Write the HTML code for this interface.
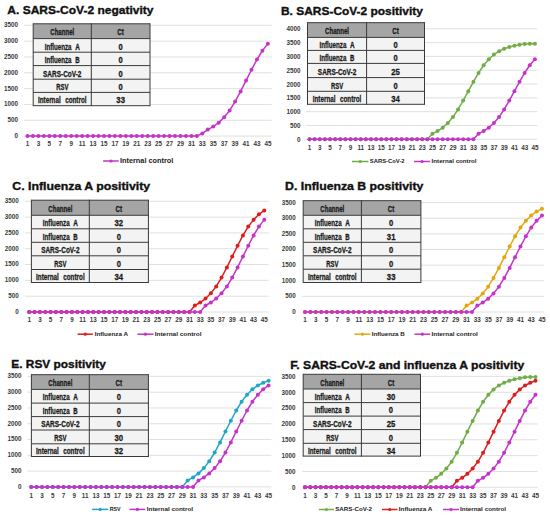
<!DOCTYPE html>
<html><head><meta charset="utf-8"><style>
html,body{margin:0;padding:0;background:#fff;}
svg{display:block;}
text{font-family:"Liberation Sans", sans-serif;white-space:pre;}
.tt{font-size:10.8px;font-weight:bold;fill:#111;stroke:#111;stroke-width:0.35px;}
.ax{font-size:6.3px;font-weight:bold;fill:#3a3a3a;}
.tb{font-size:9.6px;font-weight:bold;fill:#1a1a1a;stroke:#1a1a1a;stroke-width:0.3px;}
.lg{fill:#222;font-weight:bold;}
</style></head><body>
<svg width="550" height="517" viewBox="0 0 550 517">
<rect width="550" height="517" fill="#fff"/>
<line x1="24" y1="136.1" x2="271.6" y2="136.1" stroke="#DDDDDD" stroke-width="0.9"/>
<text x="18" y="138" text-anchor="end" class="ax">0</text>
<line x1="24" y1="120.27" x2="271.6" y2="120.27" stroke="#DDDDDD" stroke-width="0.9"/>
<text x="18" y="122.17" text-anchor="end" class="ax">500</text>
<line x1="24" y1="104.44" x2="271.6" y2="104.44" stroke="#DDDDDD" stroke-width="0.9"/>
<text x="18" y="106.34" text-anchor="end" class="ax">1000</text>
<line x1="24" y1="88.61" x2="271.6" y2="88.61" stroke="#DDDDDD" stroke-width="0.9"/>
<text x="18" y="90.51" text-anchor="end" class="ax">1500</text>
<line x1="24" y1="72.79" x2="271.6" y2="72.79" stroke="#DDDDDD" stroke-width="0.9"/>
<text x="18" y="74.69" text-anchor="end" class="ax">2000</text>
<line x1="24" y1="56.96" x2="271.6" y2="56.96" stroke="#DDDDDD" stroke-width="0.9"/>
<text x="18" y="58.86" text-anchor="end" class="ax">2500</text>
<line x1="24" y1="41.13" x2="271.6" y2="41.13" stroke="#DDDDDD" stroke-width="0.9"/>
<text x="18" y="43.03" text-anchor="end" class="ax">3000</text>
<line x1="24" y1="25.3" x2="271.6" y2="25.3" stroke="#DDDDDD" stroke-width="0.9"/>
<text x="18" y="27.2" text-anchor="end" class="ax">3500</text>
<text x="27.5" y="146" text-anchor="middle" class="ax">1</text>
<text x="38.43" y="146" text-anchor="middle" class="ax">3</text>
<text x="49.35" y="146" text-anchor="middle" class="ax">5</text>
<text x="60.28" y="146" text-anchor="middle" class="ax">7</text>
<text x="71.21" y="146" text-anchor="middle" class="ax">9</text>
<text x="82.14" y="146" text-anchor="middle" class="ax">11</text>
<text x="93.06" y="146" text-anchor="middle" class="ax">13</text>
<text x="103.99" y="146" text-anchor="middle" class="ax">15</text>
<text x="114.92" y="146" text-anchor="middle" class="ax">17</text>
<text x="125.85" y="146" text-anchor="middle" class="ax">19</text>
<text x="136.77" y="146" text-anchor="middle" class="ax">21</text>
<text x="147.7" y="146" text-anchor="middle" class="ax">23</text>
<text x="158.63" y="146" text-anchor="middle" class="ax">25</text>
<text x="169.55" y="146" text-anchor="middle" class="ax">27</text>
<text x="180.48" y="146" text-anchor="middle" class="ax">29</text>
<text x="191.41" y="146" text-anchor="middle" class="ax">31</text>
<text x="202.34" y="146" text-anchor="middle" class="ax">33</text>
<text x="213.26" y="146" text-anchor="middle" class="ax">35</text>
<text x="224.19" y="146" text-anchor="middle" class="ax">37</text>
<text x="235.12" y="146" text-anchor="middle" class="ax">39</text>
<text x="246.05" y="146" text-anchor="middle" class="ax">41</text>
<text x="256.97" y="146" text-anchor="middle" class="ax">43</text>
<text x="267.9" y="146" text-anchor="middle" class="ax">45</text>
<rect x="33.2" y="23.8" width="116.8" height="14.8" fill="#A5A5A5"/>
<rect x="33.2" y="38.6" width="116.8" height="67.1" fill="#F3F3F3"/>
<line x1="33.2" y1="23.8" x2="150" y2="23.8" stroke="#3A3A3A" stroke-width="1"/>
<line x1="33.2" y1="38.6" x2="150" y2="38.6" stroke="#3A3A3A" stroke-width="1"/>
<line x1="33.2" y1="52.2" x2="150" y2="52.2" stroke="#3A3A3A" stroke-width="1"/>
<line x1="33.2" y1="65.6" x2="150" y2="65.6" stroke="#3A3A3A" stroke-width="1"/>
<line x1="33.2" y1="79.2" x2="150" y2="79.2" stroke="#3A3A3A" stroke-width="1"/>
<line x1="33.2" y1="92.4" x2="150" y2="92.4" stroke="#3A3A3A" stroke-width="1"/>
<line x1="33.2" y1="105.7" x2="150" y2="105.7" stroke="#3A3A3A" stroke-width="1"/>
<line x1="33.2" y1="23.3" x2="33.2" y2="106.2" stroke="#3A3A3A" stroke-width="1"/>
<line x1="91.3" y1="23.3" x2="91.3" y2="106.2" stroke="#3A3A3A" stroke-width="1"/>
<line x1="150" y1="23.3" x2="150" y2="106.2" stroke="#3A3A3A" stroke-width="1"/>
<text x="62.25" y="35.3" text-anchor="middle" textLength="24" lengthAdjust="spacingAndGlyphs" class="tb">Channel</text>
<text x="120.65" y="35.3" text-anchor="middle" textLength="6.6" lengthAdjust="spacingAndGlyphs" class="tb">Ct</text>
<text x="44.75" y="49.5" textLength="26.8" lengthAdjust="spacingAndGlyphs" class="tb">Influenza</text>
<text x="75.15" y="49.5" textLength="4.6" lengthAdjust="spacingAndGlyphs" class="tb">A</text>
<text x="120.65" y="49.5" text-anchor="middle" textLength="4.2" lengthAdjust="spacingAndGlyphs" class="tb dg">0</text>
<text x="44.75" y="63" textLength="26.8" lengthAdjust="spacingAndGlyphs" class="tb">Influenza</text>
<text x="75.15" y="63" textLength="4.4" lengthAdjust="spacingAndGlyphs" class="tb">B</text>
<text x="120.65" y="63" text-anchor="middle" textLength="4.2" lengthAdjust="spacingAndGlyphs" class="tb dg">0</text>
<text x="62.25" y="76.5" text-anchor="middle" textLength="38.4" lengthAdjust="spacingAndGlyphs" class="tb">SARS-CoV-2</text>
<text x="120.65" y="76.5" text-anchor="middle" textLength="4.2" lengthAdjust="spacingAndGlyphs" class="tb dg">0</text>
<text x="62.25" y="89.9" text-anchor="middle" textLength="12.2" lengthAdjust="spacingAndGlyphs" class="tb">RSV</text>
<text x="120.65" y="89.9" text-anchor="middle" textLength="4.2" lengthAdjust="spacingAndGlyphs" class="tb dg">0</text>
<text x="37.95" y="103.15" textLength="22.8" lengthAdjust="spacingAndGlyphs" class="tb">Internal</text>
<text x="65.15" y="103.15" textLength="21.4" lengthAdjust="spacingAndGlyphs" class="tb">control</text>
<text x="120.65" y="103.15" text-anchor="middle" textLength="8.6" lengthAdjust="spacingAndGlyphs" class="tb dg">33</text>
<polyline points="27.5,136.1 32.96,136.1 38.43,136.1 43.89,136.1 49.35,136.1 54.82,136.1 60.28,136.1 65.75,136.1 71.21,136.1 76.67,136.1 82.14,136.1 87.6,136.1 93.06,136.1 98.53,136.1 103.99,136.1 109.45,136.1 114.92,136.1 120.38,136.1 125.85,136.1 131.31,136.1 136.77,136.1 142.24,136.1 147.7,136.1 153.16,136.1 158.63,136.1 164.09,136.1 169.55,136.1 175.02,136.1 180.48,136.1 185.95,136.1 191.41,136.1 196.87,136.1 202.34,133.41 207.8,129.61 213.26,126.6 218.73,122.65 224.19,117.26 229.65,110.46 235.12,101.59 240.58,91.46 246.05,80.54 251.51,69.78 256.97,59.49 262.44,50.63 267.9,43.66" fill="none" stroke="#C434C8" stroke-width="1.5" stroke-linejoin="round"/>
<circle cx="27.5" cy="136.1" r="2.0" fill="#C434C8"/>
<circle cx="32.96" cy="136.1" r="2.0" fill="#C434C8"/>
<circle cx="38.43" cy="136.1" r="2.0" fill="#C434C8"/>
<circle cx="43.89" cy="136.1" r="2.0" fill="#C434C8"/>
<circle cx="49.35" cy="136.1" r="2.0" fill="#C434C8"/>
<circle cx="54.82" cy="136.1" r="2.0" fill="#C434C8"/>
<circle cx="60.28" cy="136.1" r="2.0" fill="#C434C8"/>
<circle cx="65.75" cy="136.1" r="2.0" fill="#C434C8"/>
<circle cx="71.21" cy="136.1" r="2.0" fill="#C434C8"/>
<circle cx="76.67" cy="136.1" r="2.0" fill="#C434C8"/>
<circle cx="82.14" cy="136.1" r="2.0" fill="#C434C8"/>
<circle cx="87.6" cy="136.1" r="2.0" fill="#C434C8"/>
<circle cx="93.06" cy="136.1" r="2.0" fill="#C434C8"/>
<circle cx="98.53" cy="136.1" r="2.0" fill="#C434C8"/>
<circle cx="103.99" cy="136.1" r="2.0" fill="#C434C8"/>
<circle cx="109.45" cy="136.1" r="2.0" fill="#C434C8"/>
<circle cx="114.92" cy="136.1" r="2.0" fill="#C434C8"/>
<circle cx="120.38" cy="136.1" r="2.0" fill="#C434C8"/>
<circle cx="125.85" cy="136.1" r="2.0" fill="#C434C8"/>
<circle cx="131.31" cy="136.1" r="2.0" fill="#C434C8"/>
<circle cx="136.77" cy="136.1" r="2.0" fill="#C434C8"/>
<circle cx="142.24" cy="136.1" r="2.0" fill="#C434C8"/>
<circle cx="147.7" cy="136.1" r="2.0" fill="#C434C8"/>
<circle cx="153.16" cy="136.1" r="2.0" fill="#C434C8"/>
<circle cx="158.63" cy="136.1" r="2.0" fill="#C434C8"/>
<circle cx="164.09" cy="136.1" r="2.0" fill="#C434C8"/>
<circle cx="169.55" cy="136.1" r="2.0" fill="#C434C8"/>
<circle cx="175.02" cy="136.1" r="2.0" fill="#C434C8"/>
<circle cx="180.48" cy="136.1" r="2.0" fill="#C434C8"/>
<circle cx="185.95" cy="136.1" r="2.0" fill="#C434C8"/>
<circle cx="191.41" cy="136.1" r="2.0" fill="#C434C8"/>
<circle cx="196.87" cy="136.1" r="2.0" fill="#C434C8"/>
<circle cx="202.34" cy="133.41" r="2.0" fill="#C434C8"/>
<circle cx="207.8" cy="129.61" r="2.0" fill="#C434C8"/>
<circle cx="213.26" cy="126.6" r="2.0" fill="#C434C8"/>
<circle cx="218.73" cy="122.65" r="2.0" fill="#C434C8"/>
<circle cx="224.19" cy="117.26" r="2.0" fill="#C434C8"/>
<circle cx="229.65" cy="110.46" r="2.0" fill="#C434C8"/>
<circle cx="235.12" cy="101.59" r="2.0" fill="#C434C8"/>
<circle cx="240.58" cy="91.46" r="2.0" fill="#C434C8"/>
<circle cx="246.05" cy="80.54" r="2.0" fill="#C434C8"/>
<circle cx="251.51" cy="69.78" r="2.0" fill="#C434C8"/>
<circle cx="256.97" cy="59.49" r="2.0" fill="#C434C8"/>
<circle cx="262.44" cy="50.63" r="2.0" fill="#C434C8"/>
<circle cx="267.9" cy="43.66" r="2.0" fill="#C434C8"/>
<line x1="103.1" y1="161" x2="118.7" y2="161" stroke="#C434C8" stroke-width="1.5"/>
<circle cx="110.9" cy="161" r="1.6" fill="#C434C8"/>
<text x="120" y="163.18" font-size="7.6" textLength="53.3" lengthAdjust="spacingAndGlyphs" class="lg">Internal control</text>
<text x="7.3" y="13.5" textLength="146.2" lengthAdjust="spacingAndGlyphs" class="tt">A. SARS-CoV-2 negativity</text>
<line x1="306" y1="139.3" x2="537.4" y2="139.3" stroke="#DDDDDD" stroke-width="0.9"/>
<text x="300.5" y="141.8" text-anchor="end" class="ax">0</text>
<line x1="306" y1="125.49" x2="537.4" y2="125.49" stroke="#DDDDDD" stroke-width="0.9"/>
<text x="300.5" y="127.99" text-anchor="end" class="ax">500</text>
<line x1="306" y1="111.68" x2="537.4" y2="111.68" stroke="#DDDDDD" stroke-width="0.9"/>
<text x="300.5" y="114.18" text-anchor="end" class="ax">1000</text>
<line x1="306" y1="97.86" x2="537.4" y2="97.86" stroke="#DDDDDD" stroke-width="0.9"/>
<text x="300.5" y="100.36" text-anchor="end" class="ax">1500</text>
<line x1="306" y1="84.05" x2="537.4" y2="84.05" stroke="#DDDDDD" stroke-width="0.9"/>
<text x="300.5" y="86.55" text-anchor="end" class="ax">2000</text>
<line x1="306" y1="70.24" x2="537.4" y2="70.24" stroke="#DDDDDD" stroke-width="0.9"/>
<text x="300.5" y="72.74" text-anchor="end" class="ax">2500</text>
<line x1="306" y1="56.42" x2="537.4" y2="56.42" stroke="#DDDDDD" stroke-width="0.9"/>
<text x="300.5" y="58.92" text-anchor="end" class="ax">3000</text>
<line x1="306" y1="42.61" x2="537.4" y2="42.61" stroke="#DDDDDD" stroke-width="0.9"/>
<text x="300.5" y="45.11" text-anchor="end" class="ax">3500</text>
<line x1="306" y1="28.8" x2="537.4" y2="28.8" stroke="#DDDDDD" stroke-width="0.9"/>
<text x="300.5" y="31.3" text-anchor="end" class="ax">4000</text>
<text x="309.5" y="150" text-anchor="middle" class="ax">1</text>
<text x="319.75" y="150" text-anchor="middle" class="ax">3</text>
<text x="329.99" y="150" text-anchor="middle" class="ax">5</text>
<text x="340.24" y="150" text-anchor="middle" class="ax">7</text>
<text x="350.48" y="150" text-anchor="middle" class="ax">9</text>
<text x="360.73" y="150" text-anchor="middle" class="ax">11</text>
<text x="370.97" y="150" text-anchor="middle" class="ax">13</text>
<text x="381.22" y="150" text-anchor="middle" class="ax">15</text>
<text x="391.46" y="150" text-anchor="middle" class="ax">17</text>
<text x="401.71" y="150" text-anchor="middle" class="ax">19</text>
<text x="411.95" y="150" text-anchor="middle" class="ax">21</text>
<text x="422.2" y="150" text-anchor="middle" class="ax">23</text>
<text x="432.45" y="150" text-anchor="middle" class="ax">25</text>
<text x="442.69" y="150" text-anchor="middle" class="ax">27</text>
<text x="452.94" y="150" text-anchor="middle" class="ax">29</text>
<text x="463.18" y="150" text-anchor="middle" class="ax">31</text>
<text x="473.43" y="150" text-anchor="middle" class="ax">33</text>
<text x="483.67" y="150" text-anchor="middle" class="ax">35</text>
<text x="493.92" y="150" text-anchor="middle" class="ax">37</text>
<text x="504.16" y="150" text-anchor="middle" class="ax">39</text>
<text x="514.41" y="150" text-anchor="middle" class="ax">41</text>
<text x="524.65" y="150" text-anchor="middle" class="ax">43</text>
<text x="534.9" y="150" text-anchor="middle" class="ax">45</text>
<rect x="307.5" y="22.7" width="117" height="14.7" fill="#A5A5A5"/>
<rect x="307.5" y="37.4" width="117" height="66.9" fill="#F3F3F3"/>
<line x1="307.5" y1="22.7" x2="424.5" y2="22.7" stroke="#3A3A3A" stroke-width="1"/>
<line x1="307.5" y1="37.4" x2="424.5" y2="37.4" stroke="#3A3A3A" stroke-width="1"/>
<line x1="307.5" y1="50.4" x2="424.5" y2="50.4" stroke="#3A3A3A" stroke-width="1"/>
<line x1="307.5" y1="63.4" x2="424.5" y2="63.4" stroke="#3A3A3A" stroke-width="1"/>
<line x1="307.5" y1="77.6" x2="424.5" y2="77.6" stroke="#3A3A3A" stroke-width="1"/>
<line x1="307.5" y1="91.3" x2="424.5" y2="91.3" stroke="#3A3A3A" stroke-width="1"/>
<line x1="307.5" y1="104.3" x2="424.5" y2="104.3" stroke="#3A3A3A" stroke-width="1"/>
<line x1="307.5" y1="22.2" x2="307.5" y2="104.8" stroke="#3A3A3A" stroke-width="1"/>
<line x1="366.6" y1="22.2" x2="366.6" y2="104.8" stroke="#3A3A3A" stroke-width="1"/>
<line x1="424.5" y1="22.2" x2="424.5" y2="104.8" stroke="#3A3A3A" stroke-width="1"/>
<text x="337.05" y="34.15" text-anchor="middle" textLength="24" lengthAdjust="spacingAndGlyphs" class="tb">Channel</text>
<text x="395.55" y="34.15" text-anchor="middle" textLength="6.6" lengthAdjust="spacingAndGlyphs" class="tb">Ct</text>
<text x="319.55" y="48" textLength="26.8" lengthAdjust="spacingAndGlyphs" class="tb">Influenza</text>
<text x="349.95" y="48" textLength="4.6" lengthAdjust="spacingAndGlyphs" class="tb">A</text>
<text x="395.55" y="48" text-anchor="middle" textLength="4.2" lengthAdjust="spacingAndGlyphs" class="tb dg">0</text>
<text x="319.55" y="61" textLength="26.8" lengthAdjust="spacingAndGlyphs" class="tb">Influenza</text>
<text x="349.95" y="61" textLength="4.4" lengthAdjust="spacingAndGlyphs" class="tb">B</text>
<text x="395.55" y="61" text-anchor="middle" textLength="4.2" lengthAdjust="spacingAndGlyphs" class="tb dg">0</text>
<text x="337.05" y="74.6" text-anchor="middle" textLength="38.4" lengthAdjust="spacingAndGlyphs" class="tb">SARS-CoV-2</text>
<text x="395.55" y="74.6" text-anchor="middle" textLength="8.6" lengthAdjust="spacingAndGlyphs" class="tb dg">25</text>
<text x="337.05" y="88.55" text-anchor="middle" textLength="12.2" lengthAdjust="spacingAndGlyphs" class="tb">RSV</text>
<text x="395.55" y="88.55" text-anchor="middle" textLength="4.2" lengthAdjust="spacingAndGlyphs" class="tb dg">0</text>
<text x="312.75" y="101.9" textLength="22.8" lengthAdjust="spacingAndGlyphs" class="tb">Internal</text>
<text x="339.95" y="101.9" textLength="21.4" lengthAdjust="spacingAndGlyphs" class="tb">control</text>
<text x="395.55" y="101.9" text-anchor="middle" textLength="8.6" lengthAdjust="spacingAndGlyphs" class="tb dg">34</text>
<polyline points="309.5,139.3 314.62,139.3 319.75,139.3 324.87,139.3 329.99,139.3 335.11,139.3 340.24,139.3 345.36,139.3 350.48,139.3 355.6,139.3 360.73,139.3 365.85,139.3 370.97,139.3 376.1,139.3 381.22,139.3 386.34,139.3 391.46,139.3 396.59,139.3 401.71,139.3 406.83,139.3 411.95,139.3 417.08,139.3 422.2,139.3 427.32,139.3 432.45,133.68 437.57,131.07 442.69,127.64 447.81,122.98 452.94,117.08 458.06,109.4 463.18,100.62 468.3,91.16 473.43,81.83 478.55,72.92 483.67,65.23 488.8,59.2 493.92,54.54 499.04,51.16 504.16,48.78 509.29,46.99 514.41,45.76 519.53,44.8 524.65,44.11 529.78,43.84 534.9,43.84" fill="none" stroke="#70AD47" stroke-width="1.5" stroke-linejoin="round"/>
<circle cx="309.5" cy="139.3" r="2.0" fill="#70AD47"/>
<circle cx="314.62" cy="139.3" r="2.0" fill="#70AD47"/>
<circle cx="319.75" cy="139.3" r="2.0" fill="#70AD47"/>
<circle cx="324.87" cy="139.3" r="2.0" fill="#70AD47"/>
<circle cx="329.99" cy="139.3" r="2.0" fill="#70AD47"/>
<circle cx="335.11" cy="139.3" r="2.0" fill="#70AD47"/>
<circle cx="340.24" cy="139.3" r="2.0" fill="#70AD47"/>
<circle cx="345.36" cy="139.3" r="2.0" fill="#70AD47"/>
<circle cx="350.48" cy="139.3" r="2.0" fill="#70AD47"/>
<circle cx="355.6" cy="139.3" r="2.0" fill="#70AD47"/>
<circle cx="360.73" cy="139.3" r="2.0" fill="#70AD47"/>
<circle cx="365.85" cy="139.3" r="2.0" fill="#70AD47"/>
<circle cx="370.97" cy="139.3" r="2.0" fill="#70AD47"/>
<circle cx="376.1" cy="139.3" r="2.0" fill="#70AD47"/>
<circle cx="381.22" cy="139.3" r="2.0" fill="#70AD47"/>
<circle cx="386.34" cy="139.3" r="2.0" fill="#70AD47"/>
<circle cx="391.46" cy="139.3" r="2.0" fill="#70AD47"/>
<circle cx="396.59" cy="139.3" r="2.0" fill="#70AD47"/>
<circle cx="401.71" cy="139.3" r="2.0" fill="#70AD47"/>
<circle cx="406.83" cy="139.3" r="2.0" fill="#70AD47"/>
<circle cx="411.95" cy="139.3" r="2.0" fill="#70AD47"/>
<circle cx="417.08" cy="139.3" r="2.0" fill="#70AD47"/>
<circle cx="422.2" cy="139.3" r="2.0" fill="#70AD47"/>
<circle cx="427.32" cy="139.3" r="2.0" fill="#70AD47"/>
<circle cx="432.45" cy="133.68" r="2.0" fill="#70AD47"/>
<circle cx="437.57" cy="131.07" r="2.0" fill="#70AD47"/>
<circle cx="442.69" cy="127.64" r="2.0" fill="#70AD47"/>
<circle cx="447.81" cy="122.98" r="2.0" fill="#70AD47"/>
<circle cx="452.94" cy="117.08" r="2.0" fill="#70AD47"/>
<circle cx="458.06" cy="109.4" r="2.0" fill="#70AD47"/>
<circle cx="463.18" cy="100.62" r="2.0" fill="#70AD47"/>
<circle cx="468.3" cy="91.16" r="2.0" fill="#70AD47"/>
<circle cx="473.43" cy="81.83" r="2.0" fill="#70AD47"/>
<circle cx="478.55" cy="72.92" r="2.0" fill="#70AD47"/>
<circle cx="483.67" cy="65.23" r="2.0" fill="#70AD47"/>
<circle cx="488.8" cy="59.2" r="2.0" fill="#70AD47"/>
<circle cx="493.92" cy="54.54" r="2.0" fill="#70AD47"/>
<circle cx="499.04" cy="51.16" r="2.0" fill="#70AD47"/>
<circle cx="504.16" cy="48.78" r="2.0" fill="#70AD47"/>
<circle cx="509.29" cy="46.99" r="2.0" fill="#70AD47"/>
<circle cx="514.41" cy="45.76" r="2.0" fill="#70AD47"/>
<circle cx="519.53" cy="44.8" r="2.0" fill="#70AD47"/>
<circle cx="524.65" cy="44.11" r="2.0" fill="#70AD47"/>
<circle cx="529.78" cy="43.84" r="2.0" fill="#70AD47"/>
<circle cx="534.9" cy="43.84" r="2.0" fill="#70AD47"/>
<polyline points="309.5,139.3 314.62,139.3 319.75,139.3 324.87,139.3 329.99,139.3 335.11,139.3 340.24,139.3 345.36,139.3 350.48,139.3 355.6,139.3 360.73,139.3 365.85,139.3 370.97,139.3 376.1,139.3 381.22,139.3 386.34,139.3 391.46,139.3 396.59,139.3 401.71,139.3 406.83,139.3 411.95,139.3 417.08,139.3 422.2,139.3 427.32,139.3 432.45,139.3 437.57,139.3 442.69,139.3 447.81,139.3 452.94,139.3 458.06,139.3 463.18,139.3 468.3,139.3 473.43,139.3 478.55,133.68 483.67,131.07 488.8,127.64 493.92,122.98 499.04,117.08 504.16,109.4 509.29,100.62 514.41,91.16 519.53,81.83 524.65,72.92 529.78,65.23 534.9,59.2" fill="none" stroke="#C434C8" stroke-width="1.5" stroke-linejoin="round"/>
<circle cx="309.5" cy="139.3" r="2.0" fill="#C434C8"/>
<circle cx="314.62" cy="139.3" r="2.0" fill="#C434C8"/>
<circle cx="319.75" cy="139.3" r="2.0" fill="#C434C8"/>
<circle cx="324.87" cy="139.3" r="2.0" fill="#C434C8"/>
<circle cx="329.99" cy="139.3" r="2.0" fill="#C434C8"/>
<circle cx="335.11" cy="139.3" r="2.0" fill="#C434C8"/>
<circle cx="340.24" cy="139.3" r="2.0" fill="#C434C8"/>
<circle cx="345.36" cy="139.3" r="2.0" fill="#C434C8"/>
<circle cx="350.48" cy="139.3" r="2.0" fill="#C434C8"/>
<circle cx="355.6" cy="139.3" r="2.0" fill="#C434C8"/>
<circle cx="360.73" cy="139.3" r="2.0" fill="#C434C8"/>
<circle cx="365.85" cy="139.3" r="2.0" fill="#C434C8"/>
<circle cx="370.97" cy="139.3" r="2.0" fill="#C434C8"/>
<circle cx="376.1" cy="139.3" r="2.0" fill="#C434C8"/>
<circle cx="381.22" cy="139.3" r="2.0" fill="#C434C8"/>
<circle cx="386.34" cy="139.3" r="2.0" fill="#C434C8"/>
<circle cx="391.46" cy="139.3" r="2.0" fill="#C434C8"/>
<circle cx="396.59" cy="139.3" r="2.0" fill="#C434C8"/>
<circle cx="401.71" cy="139.3" r="2.0" fill="#C434C8"/>
<circle cx="406.83" cy="139.3" r="2.0" fill="#C434C8"/>
<circle cx="411.95" cy="139.3" r="2.0" fill="#C434C8"/>
<circle cx="417.08" cy="139.3" r="2.0" fill="#C434C8"/>
<circle cx="422.2" cy="139.3" r="2.0" fill="#C434C8"/>
<circle cx="427.32" cy="139.3" r="2.0" fill="#C434C8"/>
<circle cx="432.45" cy="139.3" r="2.0" fill="#C434C8"/>
<circle cx="437.57" cy="139.3" r="2.0" fill="#C434C8"/>
<circle cx="442.69" cy="139.3" r="2.0" fill="#C434C8"/>
<circle cx="447.81" cy="139.3" r="2.0" fill="#C434C8"/>
<circle cx="452.94" cy="139.3" r="2.0" fill="#C434C8"/>
<circle cx="458.06" cy="139.3" r="2.0" fill="#C434C8"/>
<circle cx="463.18" cy="139.3" r="2.0" fill="#C434C8"/>
<circle cx="468.3" cy="139.3" r="2.0" fill="#C434C8"/>
<circle cx="473.43" cy="139.3" r="2.0" fill="#C434C8"/>
<circle cx="478.55" cy="133.68" r="2.0" fill="#C434C8"/>
<circle cx="483.67" cy="131.07" r="2.0" fill="#C434C8"/>
<circle cx="488.8" cy="127.64" r="2.0" fill="#C434C8"/>
<circle cx="493.92" cy="122.98" r="2.0" fill="#C434C8"/>
<circle cx="499.04" cy="117.08" r="2.0" fill="#C434C8"/>
<circle cx="504.16" cy="109.4" r="2.0" fill="#C434C8"/>
<circle cx="509.29" cy="100.62" r="2.0" fill="#C434C8"/>
<circle cx="514.41" cy="91.16" r="2.0" fill="#C434C8"/>
<circle cx="519.53" cy="81.83" r="2.0" fill="#C434C8"/>
<circle cx="524.65" cy="72.92" r="2.0" fill="#C434C8"/>
<circle cx="529.78" cy="65.23" r="2.0" fill="#C434C8"/>
<circle cx="534.9" cy="59.2" r="2.0" fill="#C434C8"/>
<line x1="352" y1="161.5" x2="368.5" y2="161.5" stroke="#70AD47" stroke-width="1.5"/>
<circle cx="360.25" cy="161.5" r="1.6" fill="#70AD47"/>
<text x="369.8" y="163.21" font-size="6.2" textLength="34.8" lengthAdjust="spacingAndGlyphs" class="lg">SARS-CoV-2</text>
<line x1="413.9" y1="161.5" x2="430.2" y2="161.5" stroke="#C434C8" stroke-width="1.5"/>
<circle cx="422.05" cy="161.5" r="1.6" fill="#C434C8"/>
<text x="431.6" y="163.21" font-size="6.2" textLength="45" lengthAdjust="spacingAndGlyphs" class="lg">Internal control</text>
<text x="281" y="15" textLength="141.9" lengthAdjust="spacingAndGlyphs" class="tt">B. SARS-CoV-2 positivity</text>
<line x1="25" y1="312" x2="268.5" y2="312" stroke="#DDDDDD" stroke-width="0.9"/>
<text x="18.7" y="313.9" text-anchor="end" class="ax">0</text>
<line x1="25" y1="296.19" x2="268.5" y2="296.19" stroke="#DDDDDD" stroke-width="0.9"/>
<text x="18.7" y="298.09" text-anchor="end" class="ax">500</text>
<line x1="25" y1="280.37" x2="268.5" y2="280.37" stroke="#DDDDDD" stroke-width="0.9"/>
<text x="18.7" y="282.27" text-anchor="end" class="ax">1000</text>
<line x1="25" y1="264.56" x2="268.5" y2="264.56" stroke="#DDDDDD" stroke-width="0.9"/>
<text x="18.7" y="266.46" text-anchor="end" class="ax">1500</text>
<line x1="25" y1="248.74" x2="268.5" y2="248.74" stroke="#DDDDDD" stroke-width="0.9"/>
<text x="18.7" y="250.64" text-anchor="end" class="ax">2000</text>
<line x1="25" y1="232.93" x2="268.5" y2="232.93" stroke="#DDDDDD" stroke-width="0.9"/>
<text x="18.7" y="234.83" text-anchor="end" class="ax">2500</text>
<line x1="25" y1="217.11" x2="268.5" y2="217.11" stroke="#DDDDDD" stroke-width="0.9"/>
<text x="18.7" y="219.01" text-anchor="end" class="ax">3000</text>
<line x1="25" y1="201.3" x2="268.5" y2="201.3" stroke="#DDDDDD" stroke-width="0.9"/>
<text x="18.7" y="203.2" text-anchor="end" class="ax">3500</text>
<text x="29.2" y="321.8" text-anchor="middle" class="ax">1</text>
<text x="39.89" y="321.8" text-anchor="middle" class="ax">3</text>
<text x="50.57" y="321.8" text-anchor="middle" class="ax">5</text>
<text x="61.26" y="321.8" text-anchor="middle" class="ax">7</text>
<text x="71.95" y="321.8" text-anchor="middle" class="ax">9</text>
<text x="82.63" y="321.8" text-anchor="middle" class="ax">11</text>
<text x="93.32" y="321.8" text-anchor="middle" class="ax">13</text>
<text x="104" y="321.8" text-anchor="middle" class="ax">15</text>
<text x="114.69" y="321.8" text-anchor="middle" class="ax">17</text>
<text x="125.38" y="321.8" text-anchor="middle" class="ax">19</text>
<text x="136.06" y="321.8" text-anchor="middle" class="ax">21</text>
<text x="146.75" y="321.8" text-anchor="middle" class="ax">23</text>
<text x="157.44" y="321.8" text-anchor="middle" class="ax">25</text>
<text x="168.12" y="321.8" text-anchor="middle" class="ax">27</text>
<text x="178.81" y="321.8" text-anchor="middle" class="ax">29</text>
<text x="189.5" y="321.8" text-anchor="middle" class="ax">31</text>
<text x="200.18" y="321.8" text-anchor="middle" class="ax">33</text>
<text x="210.87" y="321.8" text-anchor="middle" class="ax">35</text>
<text x="221.55" y="321.8" text-anchor="middle" class="ax">37</text>
<text x="232.24" y="321.8" text-anchor="middle" class="ax">39</text>
<text x="242.93" y="321.8" text-anchor="middle" class="ax">41</text>
<text x="253.61" y="321.8" text-anchor="middle" class="ax">43</text>
<text x="264.3" y="321.8" text-anchor="middle" class="ax">45</text>
<rect x="31.4" y="200.2" width="117" height="15.1" fill="#A5A5A5"/>
<rect x="31.4" y="215.3" width="117" height="67.2" fill="#F3F3F3"/>
<line x1="31.4" y1="200.2" x2="148.4" y2="200.2" stroke="#3A3A3A" stroke-width="1"/>
<line x1="31.4" y1="215.3" x2="148.4" y2="215.3" stroke="#3A3A3A" stroke-width="1"/>
<line x1="31.4" y1="228.8" x2="148.4" y2="228.8" stroke="#3A3A3A" stroke-width="1"/>
<line x1="31.4" y1="242.3" x2="148.4" y2="242.3" stroke="#3A3A3A" stroke-width="1"/>
<line x1="31.4" y1="255.8" x2="148.4" y2="255.8" stroke="#3A3A3A" stroke-width="1"/>
<line x1="31.4" y1="269.5" x2="148.4" y2="269.5" stroke="#3A3A3A" stroke-width="1"/>
<line x1="31.4" y1="282.5" x2="148.4" y2="282.5" stroke="#3A3A3A" stroke-width="1"/>
<line x1="31.4" y1="199.7" x2="31.4" y2="283" stroke="#3A3A3A" stroke-width="1"/>
<line x1="89.3" y1="199.7" x2="89.3" y2="283" stroke="#3A3A3A" stroke-width="1"/>
<line x1="148.4" y1="199.7" x2="148.4" y2="283" stroke="#3A3A3A" stroke-width="1"/>
<text x="60.35" y="211.85" text-anchor="middle" textLength="24" lengthAdjust="spacingAndGlyphs" class="tb">Channel</text>
<text x="118.85" y="211.85" text-anchor="middle" textLength="6.6" lengthAdjust="spacingAndGlyphs" class="tb">Ct</text>
<text x="42.85" y="226.15" textLength="26.8" lengthAdjust="spacingAndGlyphs" class="tb">Influenza</text>
<text x="73.25" y="226.15" textLength="4.6" lengthAdjust="spacingAndGlyphs" class="tb">A</text>
<text x="118.85" y="226.15" text-anchor="middle" textLength="8.6" lengthAdjust="spacingAndGlyphs" class="tb dg">32</text>
<text x="42.85" y="239.65" textLength="26.8" lengthAdjust="spacingAndGlyphs" class="tb">Influenza</text>
<text x="73.25" y="239.65" textLength="4.4" lengthAdjust="spacingAndGlyphs" class="tb">B</text>
<text x="118.85" y="239.65" text-anchor="middle" textLength="4.2" lengthAdjust="spacingAndGlyphs" class="tb dg">0</text>
<text x="60.35" y="253.15" text-anchor="middle" textLength="38.4" lengthAdjust="spacingAndGlyphs" class="tb">SARS-CoV-2</text>
<text x="118.85" y="253.15" text-anchor="middle" textLength="4.2" lengthAdjust="spacingAndGlyphs" class="tb dg">0</text>
<text x="60.35" y="266.75" text-anchor="middle" textLength="12.2" lengthAdjust="spacingAndGlyphs" class="tb">RSV</text>
<text x="118.85" y="266.75" text-anchor="middle" textLength="4.2" lengthAdjust="spacingAndGlyphs" class="tb dg">0</text>
<text x="36.05" y="280.1" textLength="22.8" lengthAdjust="spacingAndGlyphs" class="tb">Internal</text>
<text x="63.25" y="280.1" textLength="21.4" lengthAdjust="spacingAndGlyphs" class="tb">control</text>
<text x="118.85" y="280.1" text-anchor="middle" textLength="8.6" lengthAdjust="spacingAndGlyphs" class="tb dg">34</text>
<polyline points="29.2,312 34.54,312 39.89,312 45.23,312 50.57,312 55.92,312 61.26,312 66.6,312 71.95,312 77.29,312 82.63,312 87.98,312 93.32,312 98.66,312 104,312 109.35,312 114.69,312 120.03,312 125.38,312 130.72,312 136.06,312 141.41,312 146.75,312 152.09,312 157.44,312 162.78,312 168.12,312 173.47,312 178.81,312 184.15,312 189.5,312 194.84,305.52 200.18,302.51 205.53,298.56 210.87,293.18 216.21,286.38 221.55,277.52 226.9,267.4 232.24,256.49 237.58,245.74 242.93,235.46 248.27,226.6 253.61,219.64 258.96,214.27 264.3,210.38" fill="none" stroke="#DD1C1C" stroke-width="1.5" stroke-linejoin="round"/>
<circle cx="29.2" cy="312" r="2.0" fill="#DD1C1C"/>
<circle cx="34.54" cy="312" r="2.0" fill="#DD1C1C"/>
<circle cx="39.89" cy="312" r="2.0" fill="#DD1C1C"/>
<circle cx="45.23" cy="312" r="2.0" fill="#DD1C1C"/>
<circle cx="50.57" cy="312" r="2.0" fill="#DD1C1C"/>
<circle cx="55.92" cy="312" r="2.0" fill="#DD1C1C"/>
<circle cx="61.26" cy="312" r="2.0" fill="#DD1C1C"/>
<circle cx="66.6" cy="312" r="2.0" fill="#DD1C1C"/>
<circle cx="71.95" cy="312" r="2.0" fill="#DD1C1C"/>
<circle cx="77.29" cy="312" r="2.0" fill="#DD1C1C"/>
<circle cx="82.63" cy="312" r="2.0" fill="#DD1C1C"/>
<circle cx="87.98" cy="312" r="2.0" fill="#DD1C1C"/>
<circle cx="93.32" cy="312" r="2.0" fill="#DD1C1C"/>
<circle cx="98.66" cy="312" r="2.0" fill="#DD1C1C"/>
<circle cx="104" cy="312" r="2.0" fill="#DD1C1C"/>
<circle cx="109.35" cy="312" r="2.0" fill="#DD1C1C"/>
<circle cx="114.69" cy="312" r="2.0" fill="#DD1C1C"/>
<circle cx="120.03" cy="312" r="2.0" fill="#DD1C1C"/>
<circle cx="125.38" cy="312" r="2.0" fill="#DD1C1C"/>
<circle cx="130.72" cy="312" r="2.0" fill="#DD1C1C"/>
<circle cx="136.06" cy="312" r="2.0" fill="#DD1C1C"/>
<circle cx="141.41" cy="312" r="2.0" fill="#DD1C1C"/>
<circle cx="146.75" cy="312" r="2.0" fill="#DD1C1C"/>
<circle cx="152.09" cy="312" r="2.0" fill="#DD1C1C"/>
<circle cx="157.44" cy="312" r="2.0" fill="#DD1C1C"/>
<circle cx="162.78" cy="312" r="2.0" fill="#DD1C1C"/>
<circle cx="168.12" cy="312" r="2.0" fill="#DD1C1C"/>
<circle cx="173.47" cy="312" r="2.0" fill="#DD1C1C"/>
<circle cx="178.81" cy="312" r="2.0" fill="#DD1C1C"/>
<circle cx="184.15" cy="312" r="2.0" fill="#DD1C1C"/>
<circle cx="189.5" cy="312" r="2.0" fill="#DD1C1C"/>
<circle cx="194.84" cy="305.52" r="2.0" fill="#DD1C1C"/>
<circle cx="200.18" cy="302.51" r="2.0" fill="#DD1C1C"/>
<circle cx="205.53" cy="298.56" r="2.0" fill="#DD1C1C"/>
<circle cx="210.87" cy="293.18" r="2.0" fill="#DD1C1C"/>
<circle cx="216.21" cy="286.38" r="2.0" fill="#DD1C1C"/>
<circle cx="221.55" cy="277.52" r="2.0" fill="#DD1C1C"/>
<circle cx="226.9" cy="267.4" r="2.0" fill="#DD1C1C"/>
<circle cx="232.24" cy="256.49" r="2.0" fill="#DD1C1C"/>
<circle cx="237.58" cy="245.74" r="2.0" fill="#DD1C1C"/>
<circle cx="242.93" cy="235.46" r="2.0" fill="#DD1C1C"/>
<circle cx="248.27" cy="226.6" r="2.0" fill="#DD1C1C"/>
<circle cx="253.61" cy="219.64" r="2.0" fill="#DD1C1C"/>
<circle cx="258.96" cy="214.27" r="2.0" fill="#DD1C1C"/>
<circle cx="264.3" cy="210.38" r="2.0" fill="#DD1C1C"/>
<polyline points="29.2,312 34.54,312 39.89,312 45.23,312 50.57,312 55.92,312 61.26,312 66.6,312 71.95,312 77.29,312 82.63,312 87.98,312 93.32,312 98.66,312 104,312 109.35,312 114.69,312 120.03,312 125.38,312 130.72,312 136.06,312 141.41,312 146.75,312 152.09,312 157.44,312 162.78,312 168.12,312 173.47,312 178.81,312 184.15,312 189.5,312 194.84,312 200.18,312 205.53,305.52 210.87,302.51 216.21,298.56 221.55,293.18 226.9,286.38 232.24,277.52 237.58,267.4 242.93,256.49 248.27,245.74 253.61,235.46 258.96,226.6 264.3,219.64" fill="none" stroke="#C434C8" stroke-width="1.5" stroke-linejoin="round"/>
<circle cx="29.2" cy="312" r="2.0" fill="#C434C8"/>
<circle cx="34.54" cy="312" r="2.0" fill="#C434C8"/>
<circle cx="39.89" cy="312" r="2.0" fill="#C434C8"/>
<circle cx="45.23" cy="312" r="2.0" fill="#C434C8"/>
<circle cx="50.57" cy="312" r="2.0" fill="#C434C8"/>
<circle cx="55.92" cy="312" r="2.0" fill="#C434C8"/>
<circle cx="61.26" cy="312" r="2.0" fill="#C434C8"/>
<circle cx="66.6" cy="312" r="2.0" fill="#C434C8"/>
<circle cx="71.95" cy="312" r="2.0" fill="#C434C8"/>
<circle cx="77.29" cy="312" r="2.0" fill="#C434C8"/>
<circle cx="82.63" cy="312" r="2.0" fill="#C434C8"/>
<circle cx="87.98" cy="312" r="2.0" fill="#C434C8"/>
<circle cx="93.32" cy="312" r="2.0" fill="#C434C8"/>
<circle cx="98.66" cy="312" r="2.0" fill="#C434C8"/>
<circle cx="104" cy="312" r="2.0" fill="#C434C8"/>
<circle cx="109.35" cy="312" r="2.0" fill="#C434C8"/>
<circle cx="114.69" cy="312" r="2.0" fill="#C434C8"/>
<circle cx="120.03" cy="312" r="2.0" fill="#C434C8"/>
<circle cx="125.38" cy="312" r="2.0" fill="#C434C8"/>
<circle cx="130.72" cy="312" r="2.0" fill="#C434C8"/>
<circle cx="136.06" cy="312" r="2.0" fill="#C434C8"/>
<circle cx="141.41" cy="312" r="2.0" fill="#C434C8"/>
<circle cx="146.75" cy="312" r="2.0" fill="#C434C8"/>
<circle cx="152.09" cy="312" r="2.0" fill="#C434C8"/>
<circle cx="157.44" cy="312" r="2.0" fill="#C434C8"/>
<circle cx="162.78" cy="312" r="2.0" fill="#C434C8"/>
<circle cx="168.12" cy="312" r="2.0" fill="#C434C8"/>
<circle cx="173.47" cy="312" r="2.0" fill="#C434C8"/>
<circle cx="178.81" cy="312" r="2.0" fill="#C434C8"/>
<circle cx="184.15" cy="312" r="2.0" fill="#C434C8"/>
<circle cx="189.5" cy="312" r="2.0" fill="#C434C8"/>
<circle cx="194.84" cy="312" r="2.0" fill="#C434C8"/>
<circle cx="200.18" cy="312" r="2.0" fill="#C434C8"/>
<circle cx="205.53" cy="305.52" r="2.0" fill="#C434C8"/>
<circle cx="210.87" cy="302.51" r="2.0" fill="#C434C8"/>
<circle cx="216.21" cy="298.56" r="2.0" fill="#C434C8"/>
<circle cx="221.55" cy="293.18" r="2.0" fill="#C434C8"/>
<circle cx="226.9" cy="286.38" r="2.0" fill="#C434C8"/>
<circle cx="232.24" cy="277.52" r="2.0" fill="#C434C8"/>
<circle cx="237.58" cy="267.4" r="2.0" fill="#C434C8"/>
<circle cx="242.93" cy="256.49" r="2.0" fill="#C434C8"/>
<circle cx="248.27" cy="245.74" r="2.0" fill="#C434C8"/>
<circle cx="253.61" cy="235.46" r="2.0" fill="#C434C8"/>
<circle cx="258.96" cy="226.6" r="2.0" fill="#C434C8"/>
<circle cx="264.3" cy="219.64" r="2.0" fill="#C434C8"/>
<line x1="77.6" y1="334.2" x2="92.9" y2="334.2" stroke="#DD1C1C" stroke-width="1.5"/>
<circle cx="85.25" cy="334.2" r="1.6" fill="#DD1C1C"/>
<text x="94.7" y="335.91" font-size="6.2" textLength="33.3" lengthAdjust="spacingAndGlyphs" class="lg">Influenza A</text>
<line x1="137.4" y1="334.2" x2="153.5" y2="334.2" stroke="#C434C8" stroke-width="1.5"/>
<circle cx="145.45" cy="334.2" r="1.6" fill="#C434C8"/>
<text x="154.7" y="335.91" font-size="6.2" textLength="46.9" lengthAdjust="spacingAndGlyphs" class="lg">Internal control</text>
<text x="12.3" y="189.8" textLength="137.9" lengthAdjust="spacingAndGlyphs" class="tt">C. Influenza A positivity</text>
<line x1="302.2" y1="312" x2="543.8" y2="312" stroke="#DDDDDD" stroke-width="0.9"/>
<text x="295.7" y="313.9" text-anchor="end" class="ax">0</text>
<line x1="302.2" y1="296.37" x2="543.8" y2="296.37" stroke="#DDDDDD" stroke-width="0.9"/>
<text x="295.7" y="298.27" text-anchor="end" class="ax">500</text>
<line x1="302.2" y1="280.74" x2="543.8" y2="280.74" stroke="#DDDDDD" stroke-width="0.9"/>
<text x="295.7" y="282.64" text-anchor="end" class="ax">1000</text>
<line x1="302.2" y1="265.11" x2="543.8" y2="265.11" stroke="#DDDDDD" stroke-width="0.9"/>
<text x="295.7" y="267.01" text-anchor="end" class="ax">1500</text>
<line x1="302.2" y1="249.49" x2="543.8" y2="249.49" stroke="#DDDDDD" stroke-width="0.9"/>
<text x="295.7" y="251.39" text-anchor="end" class="ax">2000</text>
<line x1="302.2" y1="233.86" x2="543.8" y2="233.86" stroke="#DDDDDD" stroke-width="0.9"/>
<text x="295.7" y="235.76" text-anchor="end" class="ax">2500</text>
<line x1="302.2" y1="218.23" x2="543.8" y2="218.23" stroke="#DDDDDD" stroke-width="0.9"/>
<text x="295.7" y="220.13" text-anchor="end" class="ax">3000</text>
<line x1="302.2" y1="202.6" x2="543.8" y2="202.6" stroke="#DDDDDD" stroke-width="0.9"/>
<text x="295.7" y="204.5" text-anchor="end" class="ax">3500</text>
<text x="305" y="322.1" text-anchor="middle" class="ax">1</text>
<text x="315.77" y="322.1" text-anchor="middle" class="ax">3</text>
<text x="326.55" y="322.1" text-anchor="middle" class="ax">5</text>
<text x="337.32" y="322.1" text-anchor="middle" class="ax">7</text>
<text x="348.09" y="322.1" text-anchor="middle" class="ax">9</text>
<text x="358.86" y="322.1" text-anchor="middle" class="ax">11</text>
<text x="369.64" y="322.1" text-anchor="middle" class="ax">13</text>
<text x="380.41" y="322.1" text-anchor="middle" class="ax">15</text>
<text x="391.18" y="322.1" text-anchor="middle" class="ax">17</text>
<text x="401.95" y="322.1" text-anchor="middle" class="ax">19</text>
<text x="412.73" y="322.1" text-anchor="middle" class="ax">21</text>
<text x="423.5" y="322.1" text-anchor="middle" class="ax">23</text>
<text x="434.27" y="322.1" text-anchor="middle" class="ax">25</text>
<text x="445.05" y="322.1" text-anchor="middle" class="ax">27</text>
<text x="455.82" y="322.1" text-anchor="middle" class="ax">29</text>
<text x="466.59" y="322.1" text-anchor="middle" class="ax">31</text>
<text x="477.36" y="322.1" text-anchor="middle" class="ax">33</text>
<text x="488.14" y="322.1" text-anchor="middle" class="ax">35</text>
<text x="498.91" y="322.1" text-anchor="middle" class="ax">37</text>
<text x="509.68" y="322.1" text-anchor="middle" class="ax">39</text>
<text x="520.45" y="322.1" text-anchor="middle" class="ax">41</text>
<text x="531.23" y="322.1" text-anchor="middle" class="ax">43</text>
<text x="542" y="322.1" text-anchor="middle" class="ax">45</text>
<rect x="303.2" y="200.7" width="117.7" height="14.6" fill="#A5A5A5"/>
<rect x="303.2" y="215.3" width="117.7" height="67.2" fill="#F3F3F3"/>
<line x1="303.2" y1="200.7" x2="420.9" y2="200.7" stroke="#3A3A3A" stroke-width="1"/>
<line x1="303.2" y1="215.3" x2="420.9" y2="215.3" stroke="#3A3A3A" stroke-width="1"/>
<line x1="303.2" y1="228.8" x2="420.9" y2="228.8" stroke="#3A3A3A" stroke-width="1"/>
<line x1="303.2" y1="242.3" x2="420.9" y2="242.3" stroke="#3A3A3A" stroke-width="1"/>
<line x1="303.2" y1="255.8" x2="420.9" y2="255.8" stroke="#3A3A3A" stroke-width="1"/>
<line x1="303.2" y1="269.2" x2="420.9" y2="269.2" stroke="#3A3A3A" stroke-width="1"/>
<line x1="303.2" y1="282.5" x2="420.9" y2="282.5" stroke="#3A3A3A" stroke-width="1"/>
<line x1="303.2" y1="200.2" x2="303.2" y2="283" stroke="#3A3A3A" stroke-width="1"/>
<line x1="361.4" y1="200.2" x2="361.4" y2="283" stroke="#3A3A3A" stroke-width="1"/>
<line x1="420.9" y1="200.2" x2="420.9" y2="283" stroke="#3A3A3A" stroke-width="1"/>
<text x="332.3" y="212.1" text-anchor="middle" textLength="24" lengthAdjust="spacingAndGlyphs" class="tb">Channel</text>
<text x="391.15" y="212.1" text-anchor="middle" textLength="6.6" lengthAdjust="spacingAndGlyphs" class="tb">Ct</text>
<text x="314.8" y="226.15" textLength="26.8" lengthAdjust="spacingAndGlyphs" class="tb">Influenza</text>
<text x="345.2" y="226.15" textLength="4.6" lengthAdjust="spacingAndGlyphs" class="tb">A</text>
<text x="391.15" y="226.15" text-anchor="middle" textLength="4.2" lengthAdjust="spacingAndGlyphs" class="tb dg">0</text>
<text x="314.8" y="239.65" textLength="26.8" lengthAdjust="spacingAndGlyphs" class="tb">Influenza</text>
<text x="345.2" y="239.65" textLength="4.4" lengthAdjust="spacingAndGlyphs" class="tb">B</text>
<text x="391.15" y="239.65" text-anchor="middle" textLength="8.6" lengthAdjust="spacingAndGlyphs" class="tb dg">31</text>
<text x="332.3" y="253.15" text-anchor="middle" textLength="38.4" lengthAdjust="spacingAndGlyphs" class="tb">SARS-CoV-2</text>
<text x="391.15" y="253.15" text-anchor="middle" textLength="4.2" lengthAdjust="spacingAndGlyphs" class="tb dg">0</text>
<text x="332.3" y="266.6" text-anchor="middle" textLength="12.2" lengthAdjust="spacingAndGlyphs" class="tb">RSV</text>
<text x="391.15" y="266.6" text-anchor="middle" textLength="4.2" lengthAdjust="spacingAndGlyphs" class="tb dg">0</text>
<text x="308" y="279.95" textLength="22.8" lengthAdjust="spacingAndGlyphs" class="tb">Internal</text>
<text x="335.2" y="279.95" textLength="21.4" lengthAdjust="spacingAndGlyphs" class="tb">control</text>
<text x="391.15" y="279.95" text-anchor="middle" textLength="8.6" lengthAdjust="spacingAndGlyphs" class="tb dg">33</text>
<polyline points="305,312 310.39,312 315.77,312 321.16,312 326.55,312 331.93,312 337.32,312 342.7,312 348.09,312 353.48,312 358.86,312 364.25,312 369.64,312 375.02,312 380.41,312 385.8,312 391.18,312 396.57,312 401.95,312 407.34,312 412.73,312 418.11,312 423.5,312 428.89,312 434.27,312 439.66,312 445.05,312 450.43,312 455.82,312 461.2,312 466.59,305.59 471.98,302.62 477.36,298.72 482.75,293.4 488.14,286.68 493.52,277.93 498.91,267.93 504.3,257.14 509.68,246.52 515.07,236.36 520.45,227.61 525.84,220.73 531.23,215.42 536.61,211.57 542,208.85" fill="none" stroke="#E3A70E" stroke-width="1.5" stroke-linejoin="round"/>
<circle cx="305" cy="312" r="2.0" fill="#E3A70E"/>
<circle cx="310.39" cy="312" r="2.0" fill="#E3A70E"/>
<circle cx="315.77" cy="312" r="2.0" fill="#E3A70E"/>
<circle cx="321.16" cy="312" r="2.0" fill="#E3A70E"/>
<circle cx="326.55" cy="312" r="2.0" fill="#E3A70E"/>
<circle cx="331.93" cy="312" r="2.0" fill="#E3A70E"/>
<circle cx="337.32" cy="312" r="2.0" fill="#E3A70E"/>
<circle cx="342.7" cy="312" r="2.0" fill="#E3A70E"/>
<circle cx="348.09" cy="312" r="2.0" fill="#E3A70E"/>
<circle cx="353.48" cy="312" r="2.0" fill="#E3A70E"/>
<circle cx="358.86" cy="312" r="2.0" fill="#E3A70E"/>
<circle cx="364.25" cy="312" r="2.0" fill="#E3A70E"/>
<circle cx="369.64" cy="312" r="2.0" fill="#E3A70E"/>
<circle cx="375.02" cy="312" r="2.0" fill="#E3A70E"/>
<circle cx="380.41" cy="312" r="2.0" fill="#E3A70E"/>
<circle cx="385.8" cy="312" r="2.0" fill="#E3A70E"/>
<circle cx="391.18" cy="312" r="2.0" fill="#E3A70E"/>
<circle cx="396.57" cy="312" r="2.0" fill="#E3A70E"/>
<circle cx="401.95" cy="312" r="2.0" fill="#E3A70E"/>
<circle cx="407.34" cy="312" r="2.0" fill="#E3A70E"/>
<circle cx="412.73" cy="312" r="2.0" fill="#E3A70E"/>
<circle cx="418.11" cy="312" r="2.0" fill="#E3A70E"/>
<circle cx="423.5" cy="312" r="2.0" fill="#E3A70E"/>
<circle cx="428.89" cy="312" r="2.0" fill="#E3A70E"/>
<circle cx="434.27" cy="312" r="2.0" fill="#E3A70E"/>
<circle cx="439.66" cy="312" r="2.0" fill="#E3A70E"/>
<circle cx="445.05" cy="312" r="2.0" fill="#E3A70E"/>
<circle cx="450.43" cy="312" r="2.0" fill="#E3A70E"/>
<circle cx="455.82" cy="312" r="2.0" fill="#E3A70E"/>
<circle cx="461.2" cy="312" r="2.0" fill="#E3A70E"/>
<circle cx="466.59" cy="305.59" r="2.0" fill="#E3A70E"/>
<circle cx="471.98" cy="302.62" r="2.0" fill="#E3A70E"/>
<circle cx="477.36" cy="298.72" r="2.0" fill="#E3A70E"/>
<circle cx="482.75" cy="293.4" r="2.0" fill="#E3A70E"/>
<circle cx="488.14" cy="286.68" r="2.0" fill="#E3A70E"/>
<circle cx="493.52" cy="277.93" r="2.0" fill="#E3A70E"/>
<circle cx="498.91" cy="267.93" r="2.0" fill="#E3A70E"/>
<circle cx="504.3" cy="257.14" r="2.0" fill="#E3A70E"/>
<circle cx="509.68" cy="246.52" r="2.0" fill="#E3A70E"/>
<circle cx="515.07" cy="236.36" r="2.0" fill="#E3A70E"/>
<circle cx="520.45" cy="227.61" r="2.0" fill="#E3A70E"/>
<circle cx="525.84" cy="220.73" r="2.0" fill="#E3A70E"/>
<circle cx="531.23" cy="215.42" r="2.0" fill="#E3A70E"/>
<circle cx="536.61" cy="211.57" r="2.0" fill="#E3A70E"/>
<circle cx="542" cy="208.85" r="2.0" fill="#E3A70E"/>
<polyline points="305,312 310.39,312 315.77,312 321.16,312 326.55,312 331.93,312 337.32,312 342.7,312 348.09,312 353.48,312 358.86,312 364.25,312 369.64,312 375.02,312 380.41,312 385.8,312 391.18,312 396.57,312 401.95,312 407.34,312 412.73,312 418.11,312 423.5,312 428.89,312 434.27,312 439.66,312 445.05,312 450.43,312 455.82,312 461.2,312 466.59,312 471.98,312 477.36,305.59 482.75,302.62 488.14,298.72 493.52,293.4 498.91,286.68 504.3,277.93 509.68,267.93 515.07,257.14 520.45,246.52 525.84,236.36 531.23,227.61 536.61,220.73 542,215.42" fill="none" stroke="#C434C8" stroke-width="1.5" stroke-linejoin="round"/>
<circle cx="305" cy="312" r="2.0" fill="#C434C8"/>
<circle cx="310.39" cy="312" r="2.0" fill="#C434C8"/>
<circle cx="315.77" cy="312" r="2.0" fill="#C434C8"/>
<circle cx="321.16" cy="312" r="2.0" fill="#C434C8"/>
<circle cx="326.55" cy="312" r="2.0" fill="#C434C8"/>
<circle cx="331.93" cy="312" r="2.0" fill="#C434C8"/>
<circle cx="337.32" cy="312" r="2.0" fill="#C434C8"/>
<circle cx="342.7" cy="312" r="2.0" fill="#C434C8"/>
<circle cx="348.09" cy="312" r="2.0" fill="#C434C8"/>
<circle cx="353.48" cy="312" r="2.0" fill="#C434C8"/>
<circle cx="358.86" cy="312" r="2.0" fill="#C434C8"/>
<circle cx="364.25" cy="312" r="2.0" fill="#C434C8"/>
<circle cx="369.64" cy="312" r="2.0" fill="#C434C8"/>
<circle cx="375.02" cy="312" r="2.0" fill="#C434C8"/>
<circle cx="380.41" cy="312" r="2.0" fill="#C434C8"/>
<circle cx="385.8" cy="312" r="2.0" fill="#C434C8"/>
<circle cx="391.18" cy="312" r="2.0" fill="#C434C8"/>
<circle cx="396.57" cy="312" r="2.0" fill="#C434C8"/>
<circle cx="401.95" cy="312" r="2.0" fill="#C434C8"/>
<circle cx="407.34" cy="312" r="2.0" fill="#C434C8"/>
<circle cx="412.73" cy="312" r="2.0" fill="#C434C8"/>
<circle cx="418.11" cy="312" r="2.0" fill="#C434C8"/>
<circle cx="423.5" cy="312" r="2.0" fill="#C434C8"/>
<circle cx="428.89" cy="312" r="2.0" fill="#C434C8"/>
<circle cx="434.27" cy="312" r="2.0" fill="#C434C8"/>
<circle cx="439.66" cy="312" r="2.0" fill="#C434C8"/>
<circle cx="445.05" cy="312" r="2.0" fill="#C434C8"/>
<circle cx="450.43" cy="312" r="2.0" fill="#C434C8"/>
<circle cx="455.82" cy="312" r="2.0" fill="#C434C8"/>
<circle cx="461.2" cy="312" r="2.0" fill="#C434C8"/>
<circle cx="466.59" cy="312" r="2.0" fill="#C434C8"/>
<circle cx="471.98" cy="312" r="2.0" fill="#C434C8"/>
<circle cx="477.36" cy="305.59" r="2.0" fill="#C434C8"/>
<circle cx="482.75" cy="302.62" r="2.0" fill="#C434C8"/>
<circle cx="488.14" cy="298.72" r="2.0" fill="#C434C8"/>
<circle cx="493.52" cy="293.4" r="2.0" fill="#C434C8"/>
<circle cx="498.91" cy="286.68" r="2.0" fill="#C434C8"/>
<circle cx="504.3" cy="277.93" r="2.0" fill="#C434C8"/>
<circle cx="509.68" cy="267.93" r="2.0" fill="#C434C8"/>
<circle cx="515.07" cy="257.14" r="2.0" fill="#C434C8"/>
<circle cx="520.45" cy="246.52" r="2.0" fill="#C434C8"/>
<circle cx="525.84" cy="236.36" r="2.0" fill="#C434C8"/>
<circle cx="531.23" cy="227.61" r="2.0" fill="#C434C8"/>
<circle cx="536.61" cy="220.73" r="2.0" fill="#C434C8"/>
<circle cx="542" cy="215.42" r="2.0" fill="#C434C8"/>
<line x1="354.4" y1="334.2" x2="370.4" y2="334.2" stroke="#E3A70E" stroke-width="1.5"/>
<circle cx="362.4" cy="334.2" r="1.6" fill="#E3A70E"/>
<text x="371.7" y="335.91" font-size="6.2" textLength="33.1" lengthAdjust="spacingAndGlyphs" class="lg">Influenza B</text>
<line x1="414.5" y1="334.2" x2="430.2" y2="334.2" stroke="#C434C8" stroke-width="1.5"/>
<circle cx="422.35" cy="334.2" r="1.6" fill="#C434C8"/>
<text x="431.5" y="335.91" font-size="6.2" textLength="46.3" lengthAdjust="spacingAndGlyphs" class="lg">Internal control</text>
<text x="285.1" y="189.8" textLength="138.3" lengthAdjust="spacingAndGlyphs" class="tt">D. Influenza B positivity</text>
<line x1="27.5" y1="486.9" x2="271.4" y2="486.9" stroke="#DDDDDD" stroke-width="0.9"/>
<text x="21.6" y="488.8" text-anchor="end" class="ax">0</text>
<line x1="27.5" y1="471.11" x2="271.4" y2="471.11" stroke="#DDDDDD" stroke-width="0.9"/>
<text x="21.6" y="473.01" text-anchor="end" class="ax">500</text>
<line x1="27.5" y1="455.33" x2="271.4" y2="455.33" stroke="#DDDDDD" stroke-width="0.9"/>
<text x="21.6" y="457.23" text-anchor="end" class="ax">1000</text>
<line x1="27.5" y1="439.54" x2="271.4" y2="439.54" stroke="#DDDDDD" stroke-width="0.9"/>
<text x="21.6" y="441.44" text-anchor="end" class="ax">1500</text>
<line x1="27.5" y1="423.76" x2="271.4" y2="423.76" stroke="#DDDDDD" stroke-width="0.9"/>
<text x="21.6" y="425.66" text-anchor="end" class="ax">2000</text>
<line x1="27.5" y1="407.97" x2="271.4" y2="407.97" stroke="#DDDDDD" stroke-width="0.9"/>
<text x="21.6" y="409.87" text-anchor="end" class="ax">2500</text>
<line x1="27.5" y1="392.19" x2="271.4" y2="392.19" stroke="#DDDDDD" stroke-width="0.9"/>
<text x="21.6" y="394.09" text-anchor="end" class="ax">3000</text>
<line x1="27.5" y1="376.4" x2="271.4" y2="376.4" stroke="#DDDDDD" stroke-width="0.9"/>
<text x="21.6" y="378.3" text-anchor="end" class="ax">3500</text>
<text x="31.2" y="497.9" text-anchor="middle" class="ax">1</text>
<text x="41.99" y="497.9" text-anchor="middle" class="ax">3</text>
<text x="52.78" y="497.9" text-anchor="middle" class="ax">5</text>
<text x="63.57" y="497.9" text-anchor="middle" class="ax">7</text>
<text x="74.36" y="497.9" text-anchor="middle" class="ax">9</text>
<text x="85.15" y="497.9" text-anchor="middle" class="ax">11</text>
<text x="95.95" y="497.9" text-anchor="middle" class="ax">13</text>
<text x="106.74" y="497.9" text-anchor="middle" class="ax">15</text>
<text x="117.53" y="497.9" text-anchor="middle" class="ax">17</text>
<text x="128.32" y="497.9" text-anchor="middle" class="ax">19</text>
<text x="139.11" y="497.9" text-anchor="middle" class="ax">21</text>
<text x="149.9" y="497.9" text-anchor="middle" class="ax">23</text>
<text x="160.69" y="497.9" text-anchor="middle" class="ax">25</text>
<text x="171.48" y="497.9" text-anchor="middle" class="ax">27</text>
<text x="182.27" y="497.9" text-anchor="middle" class="ax">29</text>
<text x="193.06" y="497.9" text-anchor="middle" class="ax">31</text>
<text x="203.85" y="497.9" text-anchor="middle" class="ax">33</text>
<text x="214.65" y="497.9" text-anchor="middle" class="ax">35</text>
<text x="225.44" y="497.9" text-anchor="middle" class="ax">37</text>
<text x="236.23" y="497.9" text-anchor="middle" class="ax">39</text>
<text x="247.02" y="497.9" text-anchor="middle" class="ax">41</text>
<text x="257.81" y="497.9" text-anchor="middle" class="ax">43</text>
<text x="268.6" y="497.9" text-anchor="middle" class="ax">45</text>
<rect x="31.4" y="374.7" width="117" height="14.7" fill="#A5A5A5"/>
<rect x="31.4" y="389.4" width="117" height="67.1" fill="#F3F3F3"/>
<line x1="31.4" y1="374.7" x2="148.4" y2="374.7" stroke="#3A3A3A" stroke-width="1"/>
<line x1="31.4" y1="389.4" x2="148.4" y2="389.4" stroke="#3A3A3A" stroke-width="1"/>
<line x1="31.4" y1="403.1" x2="148.4" y2="403.1" stroke="#3A3A3A" stroke-width="1"/>
<line x1="31.4" y1="416.6" x2="148.4" y2="416.6" stroke="#3A3A3A" stroke-width="1"/>
<line x1="31.4" y1="430" x2="148.4" y2="430" stroke="#3A3A3A" stroke-width="1"/>
<line x1="31.4" y1="443.8" x2="148.4" y2="443.8" stroke="#3A3A3A" stroke-width="1"/>
<line x1="31.4" y1="456.5" x2="148.4" y2="456.5" stroke="#3A3A3A" stroke-width="1"/>
<line x1="31.4" y1="374.2" x2="31.4" y2="457" stroke="#3A3A3A" stroke-width="1"/>
<line x1="89.3" y1="374.2" x2="89.3" y2="457" stroke="#3A3A3A" stroke-width="1"/>
<line x1="148.4" y1="374.2" x2="148.4" y2="457" stroke="#3A3A3A" stroke-width="1"/>
<text x="60.35" y="386.15" text-anchor="middle" textLength="24" lengthAdjust="spacingAndGlyphs" class="tb">Channel</text>
<text x="118.85" y="386.15" text-anchor="middle" textLength="6.6" lengthAdjust="spacingAndGlyphs" class="tb">Ct</text>
<text x="42.85" y="400.35" textLength="26.8" lengthAdjust="spacingAndGlyphs" class="tb">Influenza</text>
<text x="73.25" y="400.35" textLength="4.6" lengthAdjust="spacingAndGlyphs" class="tb">A</text>
<text x="118.85" y="400.35" text-anchor="middle" textLength="4.2" lengthAdjust="spacingAndGlyphs" class="tb dg">0</text>
<text x="42.85" y="413.95" textLength="26.8" lengthAdjust="spacingAndGlyphs" class="tb">Influenza</text>
<text x="73.25" y="413.95" textLength="4.4" lengthAdjust="spacingAndGlyphs" class="tb">B</text>
<text x="118.85" y="413.95" text-anchor="middle" textLength="4.2" lengthAdjust="spacingAndGlyphs" class="tb dg">0</text>
<text x="60.35" y="427.4" text-anchor="middle" textLength="38.4" lengthAdjust="spacingAndGlyphs" class="tb">SARS-CoV-2</text>
<text x="118.85" y="427.4" text-anchor="middle" textLength="4.2" lengthAdjust="spacingAndGlyphs" class="tb dg">0</text>
<text x="60.35" y="441" text-anchor="middle" textLength="12.2" lengthAdjust="spacingAndGlyphs" class="tb">RSV</text>
<text x="118.85" y="441" text-anchor="middle" textLength="8.6" lengthAdjust="spacingAndGlyphs" class="tb dg">30</text>
<text x="36.05" y="454.25" textLength="22.8" lengthAdjust="spacingAndGlyphs" class="tb">Internal</text>
<text x="63.25" y="454.25" textLength="21.4" lengthAdjust="spacingAndGlyphs" class="tb">control</text>
<text x="118.85" y="454.25" text-anchor="middle" textLength="8.6" lengthAdjust="spacingAndGlyphs" class="tb dg">32</text>
<polyline points="31.2,486.9 36.6,486.9 41.99,486.9 47.39,486.9 52.78,486.9 58.18,486.9 63.57,486.9 68.97,486.9 74.36,486.9 79.76,486.9 85.15,486.9 90.55,486.9 95.95,486.9 101.34,486.9 106.74,486.9 112.13,486.9 117.53,486.9 122.92,486.9 128.32,486.9 133.71,486.9 139.11,486.9 144.5,486.9 149.9,486.9 155.3,486.9 160.69,486.9 166.09,486.9 171.48,486.9 176.88,486.9 182.27,486.9 187.67,480.43 193.06,477.43 198.46,473.48 203.85,468.11 209.25,461.33 214.65,452.49 220.04,442.38 225.44,431.49 230.83,420.76 236.23,410.5 241.62,401.66 247.02,394.71 252.41,389.34 257.81,385.46 263.2,382.71 268.6,380.66" fill="none" stroke="#20A7C6" stroke-width="1.5" stroke-linejoin="round"/>
<circle cx="31.2" cy="486.9" r="2.0" fill="#20A7C6"/>
<circle cx="36.6" cy="486.9" r="2.0" fill="#20A7C6"/>
<circle cx="41.99" cy="486.9" r="2.0" fill="#20A7C6"/>
<circle cx="47.39" cy="486.9" r="2.0" fill="#20A7C6"/>
<circle cx="52.78" cy="486.9" r="2.0" fill="#20A7C6"/>
<circle cx="58.18" cy="486.9" r="2.0" fill="#20A7C6"/>
<circle cx="63.57" cy="486.9" r="2.0" fill="#20A7C6"/>
<circle cx="68.97" cy="486.9" r="2.0" fill="#20A7C6"/>
<circle cx="74.36" cy="486.9" r="2.0" fill="#20A7C6"/>
<circle cx="79.76" cy="486.9" r="2.0" fill="#20A7C6"/>
<circle cx="85.15" cy="486.9" r="2.0" fill="#20A7C6"/>
<circle cx="90.55" cy="486.9" r="2.0" fill="#20A7C6"/>
<circle cx="95.95" cy="486.9" r="2.0" fill="#20A7C6"/>
<circle cx="101.34" cy="486.9" r="2.0" fill="#20A7C6"/>
<circle cx="106.74" cy="486.9" r="2.0" fill="#20A7C6"/>
<circle cx="112.13" cy="486.9" r="2.0" fill="#20A7C6"/>
<circle cx="117.53" cy="486.9" r="2.0" fill="#20A7C6"/>
<circle cx="122.92" cy="486.9" r="2.0" fill="#20A7C6"/>
<circle cx="128.32" cy="486.9" r="2.0" fill="#20A7C6"/>
<circle cx="133.71" cy="486.9" r="2.0" fill="#20A7C6"/>
<circle cx="139.11" cy="486.9" r="2.0" fill="#20A7C6"/>
<circle cx="144.5" cy="486.9" r="2.0" fill="#20A7C6"/>
<circle cx="149.9" cy="486.9" r="2.0" fill="#20A7C6"/>
<circle cx="155.3" cy="486.9" r="2.0" fill="#20A7C6"/>
<circle cx="160.69" cy="486.9" r="2.0" fill="#20A7C6"/>
<circle cx="166.09" cy="486.9" r="2.0" fill="#20A7C6"/>
<circle cx="171.48" cy="486.9" r="2.0" fill="#20A7C6"/>
<circle cx="176.88" cy="486.9" r="2.0" fill="#20A7C6"/>
<circle cx="182.27" cy="486.9" r="2.0" fill="#20A7C6"/>
<circle cx="187.67" cy="480.43" r="2.0" fill="#20A7C6"/>
<circle cx="193.06" cy="477.43" r="2.0" fill="#20A7C6"/>
<circle cx="198.46" cy="473.48" r="2.0" fill="#20A7C6"/>
<circle cx="203.85" cy="468.11" r="2.0" fill="#20A7C6"/>
<circle cx="209.25" cy="461.33" r="2.0" fill="#20A7C6"/>
<circle cx="214.65" cy="452.49" r="2.0" fill="#20A7C6"/>
<circle cx="220.04" cy="442.38" r="2.0" fill="#20A7C6"/>
<circle cx="225.44" cy="431.49" r="2.0" fill="#20A7C6"/>
<circle cx="230.83" cy="420.76" r="2.0" fill="#20A7C6"/>
<circle cx="236.23" cy="410.5" r="2.0" fill="#20A7C6"/>
<circle cx="241.62" cy="401.66" r="2.0" fill="#20A7C6"/>
<circle cx="247.02" cy="394.71" r="2.0" fill="#20A7C6"/>
<circle cx="252.41" cy="389.34" r="2.0" fill="#20A7C6"/>
<circle cx="257.81" cy="385.46" r="2.0" fill="#20A7C6"/>
<circle cx="263.2" cy="382.71" r="2.0" fill="#20A7C6"/>
<circle cx="268.6" cy="380.66" r="2.0" fill="#20A7C6"/>
<polyline points="31.2,486.9 36.6,486.9 41.99,486.9 47.39,486.9 52.78,486.9 58.18,486.9 63.57,486.9 68.97,486.9 74.36,486.9 79.76,486.9 85.15,486.9 90.55,486.9 95.95,486.9 101.34,486.9 106.74,486.9 112.13,486.9 117.53,486.9 122.92,486.9 128.32,486.9 133.71,486.9 139.11,486.9 144.5,486.9 149.9,486.9 155.3,486.9 160.69,486.9 166.09,486.9 171.48,486.9 176.88,486.9 182.27,486.9 187.67,486.9 193.06,486.9 198.46,480.43 203.85,477.43 209.25,473.48 214.65,468.11 220.04,461.33 225.44,452.49 230.83,442.38 236.23,431.49 241.62,420.76 247.02,410.5 252.41,401.66 257.81,394.71 263.2,389.34 268.6,385.46" fill="none" stroke="#C434C8" stroke-width="1.5" stroke-linejoin="round"/>
<circle cx="31.2" cy="486.9" r="2.0" fill="#C434C8"/>
<circle cx="36.6" cy="486.9" r="2.0" fill="#C434C8"/>
<circle cx="41.99" cy="486.9" r="2.0" fill="#C434C8"/>
<circle cx="47.39" cy="486.9" r="2.0" fill="#C434C8"/>
<circle cx="52.78" cy="486.9" r="2.0" fill="#C434C8"/>
<circle cx="58.18" cy="486.9" r="2.0" fill="#C434C8"/>
<circle cx="63.57" cy="486.9" r="2.0" fill="#C434C8"/>
<circle cx="68.97" cy="486.9" r="2.0" fill="#C434C8"/>
<circle cx="74.36" cy="486.9" r="2.0" fill="#C434C8"/>
<circle cx="79.76" cy="486.9" r="2.0" fill="#C434C8"/>
<circle cx="85.15" cy="486.9" r="2.0" fill="#C434C8"/>
<circle cx="90.55" cy="486.9" r="2.0" fill="#C434C8"/>
<circle cx="95.95" cy="486.9" r="2.0" fill="#C434C8"/>
<circle cx="101.34" cy="486.9" r="2.0" fill="#C434C8"/>
<circle cx="106.74" cy="486.9" r="2.0" fill="#C434C8"/>
<circle cx="112.13" cy="486.9" r="2.0" fill="#C434C8"/>
<circle cx="117.53" cy="486.9" r="2.0" fill="#C434C8"/>
<circle cx="122.92" cy="486.9" r="2.0" fill="#C434C8"/>
<circle cx="128.32" cy="486.9" r="2.0" fill="#C434C8"/>
<circle cx="133.71" cy="486.9" r="2.0" fill="#C434C8"/>
<circle cx="139.11" cy="486.9" r="2.0" fill="#C434C8"/>
<circle cx="144.5" cy="486.9" r="2.0" fill="#C434C8"/>
<circle cx="149.9" cy="486.9" r="2.0" fill="#C434C8"/>
<circle cx="155.3" cy="486.9" r="2.0" fill="#C434C8"/>
<circle cx="160.69" cy="486.9" r="2.0" fill="#C434C8"/>
<circle cx="166.09" cy="486.9" r="2.0" fill="#C434C8"/>
<circle cx="171.48" cy="486.9" r="2.0" fill="#C434C8"/>
<circle cx="176.88" cy="486.9" r="2.0" fill="#C434C8"/>
<circle cx="182.27" cy="486.9" r="2.0" fill="#C434C8"/>
<circle cx="187.67" cy="486.9" r="2.0" fill="#C434C8"/>
<circle cx="193.06" cy="486.9" r="2.0" fill="#C434C8"/>
<circle cx="198.46" cy="480.43" r="2.0" fill="#C434C8"/>
<circle cx="203.85" cy="477.43" r="2.0" fill="#C434C8"/>
<circle cx="209.25" cy="473.48" r="2.0" fill="#C434C8"/>
<circle cx="214.65" cy="468.11" r="2.0" fill="#C434C8"/>
<circle cx="220.04" cy="461.33" r="2.0" fill="#C434C8"/>
<circle cx="225.44" cy="452.49" r="2.0" fill="#C434C8"/>
<circle cx="230.83" cy="442.38" r="2.0" fill="#C434C8"/>
<circle cx="236.23" cy="431.49" r="2.0" fill="#C434C8"/>
<circle cx="241.62" cy="420.76" r="2.0" fill="#C434C8"/>
<circle cx="247.02" cy="410.5" r="2.0" fill="#C434C8"/>
<circle cx="252.41" cy="401.66" r="2.0" fill="#C434C8"/>
<circle cx="257.81" cy="394.71" r="2.0" fill="#C434C8"/>
<circle cx="263.2" cy="389.34" r="2.0" fill="#C434C8"/>
<circle cx="268.6" cy="385.46" r="2.0" fill="#C434C8"/>
<line x1="92.1" y1="509.4" x2="108.4" y2="509.4" stroke="#20A7C6" stroke-width="1.5"/>
<circle cx="100.25" cy="509.4" r="1.6" fill="#20A7C6"/>
<text x="109.7" y="511.11" font-size="6.2" textLength="10.9" lengthAdjust="spacingAndGlyphs" class="lg">RSV</text>
<line x1="129.5" y1="509.4" x2="145.3" y2="509.4" stroke="#C434C8" stroke-width="1.5"/>
<circle cx="137.4" cy="509.4" r="1.6" fill="#C434C8"/>
<text x="146.8" y="511.11" font-size="6.2" textLength="46.3" lengthAdjust="spacingAndGlyphs" class="lg">Internal control</text>
<text x="11.3" y="367.5" textLength="94.5" lengthAdjust="spacingAndGlyphs" class="tt">E. RSV positivity</text>
<line x1="302.2" y1="487.3" x2="537.7" y2="487.3" stroke="#DDDDDD" stroke-width="0.9"/>
<text x="295.6" y="489.7" text-anchor="end" class="ax">0</text>
<line x1="302.2" y1="471.46" x2="537.7" y2="471.46" stroke="#DDDDDD" stroke-width="0.9"/>
<text x="295.6" y="473.86" text-anchor="end" class="ax">500</text>
<line x1="302.2" y1="455.61" x2="537.7" y2="455.61" stroke="#DDDDDD" stroke-width="0.9"/>
<text x="295.6" y="458.01" text-anchor="end" class="ax">1000</text>
<line x1="302.2" y1="439.77" x2="537.7" y2="439.77" stroke="#DDDDDD" stroke-width="0.9"/>
<text x="295.6" y="442.17" text-anchor="end" class="ax">1500</text>
<line x1="302.2" y1="423.93" x2="537.7" y2="423.93" stroke="#DDDDDD" stroke-width="0.9"/>
<text x="295.6" y="426.33" text-anchor="end" class="ax">2000</text>
<line x1="302.2" y1="408.09" x2="537.7" y2="408.09" stroke="#DDDDDD" stroke-width="0.9"/>
<text x="295.6" y="410.49" text-anchor="end" class="ax">2500</text>
<line x1="302.2" y1="392.24" x2="537.7" y2="392.24" stroke="#DDDDDD" stroke-width="0.9"/>
<text x="295.6" y="394.64" text-anchor="end" class="ax">3000</text>
<line x1="302.2" y1="376.4" x2="537.7" y2="376.4" stroke="#DDDDDD" stroke-width="0.9"/>
<text x="295.6" y="378.8" text-anchor="end" class="ax">3500</text>
<text x="305" y="497.9" text-anchor="middle" class="ax">1</text>
<text x="315.48" y="497.9" text-anchor="middle" class="ax">3</text>
<text x="325.95" y="497.9" text-anchor="middle" class="ax">5</text>
<text x="336.43" y="497.9" text-anchor="middle" class="ax">7</text>
<text x="346.91" y="497.9" text-anchor="middle" class="ax">9</text>
<text x="357.39" y="497.9" text-anchor="middle" class="ax">11</text>
<text x="367.86" y="497.9" text-anchor="middle" class="ax">13</text>
<text x="378.34" y="497.9" text-anchor="middle" class="ax">15</text>
<text x="388.82" y="497.9" text-anchor="middle" class="ax">17</text>
<text x="399.3" y="497.9" text-anchor="middle" class="ax">19</text>
<text x="409.77" y="497.9" text-anchor="middle" class="ax">21</text>
<text x="420.25" y="497.9" text-anchor="middle" class="ax">23</text>
<text x="430.73" y="497.9" text-anchor="middle" class="ax">25</text>
<text x="441.2" y="497.9" text-anchor="middle" class="ax">27</text>
<text x="451.68" y="497.9" text-anchor="middle" class="ax">29</text>
<text x="462.16" y="497.9" text-anchor="middle" class="ax">31</text>
<text x="472.64" y="497.9" text-anchor="middle" class="ax">33</text>
<text x="483.11" y="497.9" text-anchor="middle" class="ax">35</text>
<text x="493.59" y="497.9" text-anchor="middle" class="ax">37</text>
<text x="504.07" y="497.9" text-anchor="middle" class="ax">39</text>
<text x="514.55" y="497.9" text-anchor="middle" class="ax">41</text>
<text x="525.02" y="497.9" text-anchor="middle" class="ax">43</text>
<text x="535.5" y="497.9" text-anchor="middle" class="ax">45</text>
<rect x="303.2" y="374.3" width="117.3" height="14.7" fill="#A5A5A5"/>
<rect x="303.2" y="389" width="117.3" height="67.1" fill="#F3F3F3"/>
<line x1="303.2" y1="374.3" x2="420.5" y2="374.3" stroke="#3A3A3A" stroke-width="1"/>
<line x1="303.2" y1="389" x2="420.5" y2="389" stroke="#3A3A3A" stroke-width="1"/>
<line x1="303.2" y1="402.6" x2="420.5" y2="402.6" stroke="#3A3A3A" stroke-width="1"/>
<line x1="303.2" y1="416.1" x2="420.5" y2="416.1" stroke="#3A3A3A" stroke-width="1"/>
<line x1="303.2" y1="429.6" x2="420.5" y2="429.6" stroke="#3A3A3A" stroke-width="1"/>
<line x1="303.2" y1="443.3" x2="420.5" y2="443.3" stroke="#3A3A3A" stroke-width="1"/>
<line x1="303.2" y1="456.1" x2="420.5" y2="456.1" stroke="#3A3A3A" stroke-width="1"/>
<line x1="303.2" y1="373.8" x2="303.2" y2="456.6" stroke="#3A3A3A" stroke-width="1"/>
<line x1="361.4" y1="373.8" x2="361.4" y2="456.6" stroke="#3A3A3A" stroke-width="1"/>
<line x1="420.5" y1="373.8" x2="420.5" y2="456.6" stroke="#3A3A3A" stroke-width="1"/>
<text x="332.3" y="385.75" text-anchor="middle" textLength="24" lengthAdjust="spacingAndGlyphs" class="tb">Channel</text>
<text x="390.95" y="385.75" text-anchor="middle" textLength="6.6" lengthAdjust="spacingAndGlyphs" class="tb">Ct</text>
<text x="314.8" y="399.9" textLength="26.8" lengthAdjust="spacingAndGlyphs" class="tb">Influenza</text>
<text x="345.2" y="399.9" textLength="4.6" lengthAdjust="spacingAndGlyphs" class="tb">A</text>
<text x="390.95" y="399.9" text-anchor="middle" textLength="8.6" lengthAdjust="spacingAndGlyphs" class="tb dg">30</text>
<text x="314.8" y="413.45" textLength="26.8" lengthAdjust="spacingAndGlyphs" class="tb">Influenza</text>
<text x="345.2" y="413.45" textLength="4.4" lengthAdjust="spacingAndGlyphs" class="tb">B</text>
<text x="390.95" y="413.45" text-anchor="middle" textLength="4.2" lengthAdjust="spacingAndGlyphs" class="tb dg">0</text>
<text x="332.3" y="426.95" text-anchor="middle" textLength="38.4" lengthAdjust="spacingAndGlyphs" class="tb">SARS-CoV-2</text>
<text x="390.95" y="426.95" text-anchor="middle" textLength="8.6" lengthAdjust="spacingAndGlyphs" class="tb dg">25</text>
<text x="332.3" y="440.55" text-anchor="middle" textLength="12.2" lengthAdjust="spacingAndGlyphs" class="tb">RSV</text>
<text x="390.95" y="440.55" text-anchor="middle" textLength="4.2" lengthAdjust="spacingAndGlyphs" class="tb dg">0</text>
<text x="308" y="453.8" textLength="22.8" lengthAdjust="spacingAndGlyphs" class="tb">Internal</text>
<text x="335.2" y="453.8" textLength="21.4" lengthAdjust="spacingAndGlyphs" class="tb">control</text>
<text x="390.95" y="453.8" text-anchor="middle" textLength="8.6" lengthAdjust="spacingAndGlyphs" class="tb dg">34</text>
<polyline points="305,487.3 310.24,487.3 315.48,487.3 320.72,487.3 325.95,487.3 331.19,487.3 336.43,487.3 341.67,487.3 346.91,487.3 352.15,487.3 357.39,487.3 362.62,487.3 367.86,487.3 373.1,487.3 378.34,487.3 383.58,487.3 388.82,487.3 394.06,487.3 399.3,487.3 404.53,487.3 409.77,487.3 415.01,487.3 420.25,487.3 425.49,487.3 430.73,480.8 435.97,477.79 441.2,473.83 446.44,468.45 451.68,461.63 456.92,452.76 462.16,442.62 467.4,431.69 472.64,420.92 477.88,410.62 483.11,401.75 488.35,394.78 493.59,389.39 498.83,385.49 504.07,382.74 509.31,380.68 514.55,379.25 519.78,378.14 525.02,377.35 530.26,377.03 535.5,377.03" fill="none" stroke="#70AD47" stroke-width="1.5" stroke-linejoin="round"/>
<circle cx="305" cy="487.3" r="2.0" fill="#70AD47"/>
<circle cx="310.24" cy="487.3" r="2.0" fill="#70AD47"/>
<circle cx="315.48" cy="487.3" r="2.0" fill="#70AD47"/>
<circle cx="320.72" cy="487.3" r="2.0" fill="#70AD47"/>
<circle cx="325.95" cy="487.3" r="2.0" fill="#70AD47"/>
<circle cx="331.19" cy="487.3" r="2.0" fill="#70AD47"/>
<circle cx="336.43" cy="487.3" r="2.0" fill="#70AD47"/>
<circle cx="341.67" cy="487.3" r="2.0" fill="#70AD47"/>
<circle cx="346.91" cy="487.3" r="2.0" fill="#70AD47"/>
<circle cx="352.15" cy="487.3" r="2.0" fill="#70AD47"/>
<circle cx="357.39" cy="487.3" r="2.0" fill="#70AD47"/>
<circle cx="362.62" cy="487.3" r="2.0" fill="#70AD47"/>
<circle cx="367.86" cy="487.3" r="2.0" fill="#70AD47"/>
<circle cx="373.1" cy="487.3" r="2.0" fill="#70AD47"/>
<circle cx="378.34" cy="487.3" r="2.0" fill="#70AD47"/>
<circle cx="383.58" cy="487.3" r="2.0" fill="#70AD47"/>
<circle cx="388.82" cy="487.3" r="2.0" fill="#70AD47"/>
<circle cx="394.06" cy="487.3" r="2.0" fill="#70AD47"/>
<circle cx="399.3" cy="487.3" r="2.0" fill="#70AD47"/>
<circle cx="404.53" cy="487.3" r="2.0" fill="#70AD47"/>
<circle cx="409.77" cy="487.3" r="2.0" fill="#70AD47"/>
<circle cx="415.01" cy="487.3" r="2.0" fill="#70AD47"/>
<circle cx="420.25" cy="487.3" r="2.0" fill="#70AD47"/>
<circle cx="425.49" cy="487.3" r="2.0" fill="#70AD47"/>
<circle cx="430.73" cy="480.8" r="2.0" fill="#70AD47"/>
<circle cx="435.97" cy="477.79" r="2.0" fill="#70AD47"/>
<circle cx="441.2" cy="473.83" r="2.0" fill="#70AD47"/>
<circle cx="446.44" cy="468.45" r="2.0" fill="#70AD47"/>
<circle cx="451.68" cy="461.63" r="2.0" fill="#70AD47"/>
<circle cx="456.92" cy="452.76" r="2.0" fill="#70AD47"/>
<circle cx="462.16" cy="442.62" r="2.0" fill="#70AD47"/>
<circle cx="467.4" cy="431.69" r="2.0" fill="#70AD47"/>
<circle cx="472.64" cy="420.92" r="2.0" fill="#70AD47"/>
<circle cx="477.88" cy="410.62" r="2.0" fill="#70AD47"/>
<circle cx="483.11" cy="401.75" r="2.0" fill="#70AD47"/>
<circle cx="488.35" cy="394.78" r="2.0" fill="#70AD47"/>
<circle cx="493.59" cy="389.39" r="2.0" fill="#70AD47"/>
<circle cx="498.83" cy="385.49" r="2.0" fill="#70AD47"/>
<circle cx="504.07" cy="382.74" r="2.0" fill="#70AD47"/>
<circle cx="509.31" cy="380.68" r="2.0" fill="#70AD47"/>
<circle cx="514.55" cy="379.25" r="2.0" fill="#70AD47"/>
<circle cx="519.78" cy="378.14" r="2.0" fill="#70AD47"/>
<circle cx="525.02" cy="377.35" r="2.0" fill="#70AD47"/>
<circle cx="530.26" cy="377.03" r="2.0" fill="#70AD47"/>
<circle cx="535.5" cy="377.03" r="2.0" fill="#70AD47"/>
<polyline points="305,487.3 310.24,487.3 315.48,487.3 320.72,487.3 325.95,487.3 331.19,487.3 336.43,487.3 341.67,487.3 346.91,487.3 352.15,487.3 357.39,487.3 362.62,487.3 367.86,487.3 373.1,487.3 378.34,487.3 383.58,487.3 388.82,487.3 394.06,487.3 399.3,487.3 404.53,487.3 409.77,487.3 415.01,487.3 420.25,487.3 425.49,487.3 430.73,487.3 435.97,487.3 441.2,487.3 446.44,487.3 451.68,487.3 456.92,480.8 462.16,477.79 467.4,473.83 472.64,468.45 477.88,461.63 483.11,452.76 488.35,442.62 493.59,431.69 498.83,420.92 504.07,410.62 509.31,401.75 514.55,394.78 519.78,389.39 525.02,385.49 530.26,382.74 535.5,380.68" fill="none" stroke="#DD1C1C" stroke-width="1.5" stroke-linejoin="round"/>
<circle cx="305" cy="487.3" r="2.0" fill="#DD1C1C"/>
<circle cx="310.24" cy="487.3" r="2.0" fill="#DD1C1C"/>
<circle cx="315.48" cy="487.3" r="2.0" fill="#DD1C1C"/>
<circle cx="320.72" cy="487.3" r="2.0" fill="#DD1C1C"/>
<circle cx="325.95" cy="487.3" r="2.0" fill="#DD1C1C"/>
<circle cx="331.19" cy="487.3" r="2.0" fill="#DD1C1C"/>
<circle cx="336.43" cy="487.3" r="2.0" fill="#DD1C1C"/>
<circle cx="341.67" cy="487.3" r="2.0" fill="#DD1C1C"/>
<circle cx="346.91" cy="487.3" r="2.0" fill="#DD1C1C"/>
<circle cx="352.15" cy="487.3" r="2.0" fill="#DD1C1C"/>
<circle cx="357.39" cy="487.3" r="2.0" fill="#DD1C1C"/>
<circle cx="362.62" cy="487.3" r="2.0" fill="#DD1C1C"/>
<circle cx="367.86" cy="487.3" r="2.0" fill="#DD1C1C"/>
<circle cx="373.1" cy="487.3" r="2.0" fill="#DD1C1C"/>
<circle cx="378.34" cy="487.3" r="2.0" fill="#DD1C1C"/>
<circle cx="383.58" cy="487.3" r="2.0" fill="#DD1C1C"/>
<circle cx="388.82" cy="487.3" r="2.0" fill="#DD1C1C"/>
<circle cx="394.06" cy="487.3" r="2.0" fill="#DD1C1C"/>
<circle cx="399.3" cy="487.3" r="2.0" fill="#DD1C1C"/>
<circle cx="404.53" cy="487.3" r="2.0" fill="#DD1C1C"/>
<circle cx="409.77" cy="487.3" r="2.0" fill="#DD1C1C"/>
<circle cx="415.01" cy="487.3" r="2.0" fill="#DD1C1C"/>
<circle cx="420.25" cy="487.3" r="2.0" fill="#DD1C1C"/>
<circle cx="425.49" cy="487.3" r="2.0" fill="#DD1C1C"/>
<circle cx="430.73" cy="487.3" r="2.0" fill="#DD1C1C"/>
<circle cx="435.97" cy="487.3" r="2.0" fill="#DD1C1C"/>
<circle cx="441.2" cy="487.3" r="2.0" fill="#DD1C1C"/>
<circle cx="446.44" cy="487.3" r="2.0" fill="#DD1C1C"/>
<circle cx="451.68" cy="487.3" r="2.0" fill="#DD1C1C"/>
<circle cx="456.92" cy="480.8" r="2.0" fill="#DD1C1C"/>
<circle cx="462.16" cy="477.79" r="2.0" fill="#DD1C1C"/>
<circle cx="467.4" cy="473.83" r="2.0" fill="#DD1C1C"/>
<circle cx="472.64" cy="468.45" r="2.0" fill="#DD1C1C"/>
<circle cx="477.88" cy="461.63" r="2.0" fill="#DD1C1C"/>
<circle cx="483.11" cy="452.76" r="2.0" fill="#DD1C1C"/>
<circle cx="488.35" cy="442.62" r="2.0" fill="#DD1C1C"/>
<circle cx="493.59" cy="431.69" r="2.0" fill="#DD1C1C"/>
<circle cx="498.83" cy="420.92" r="2.0" fill="#DD1C1C"/>
<circle cx="504.07" cy="410.62" r="2.0" fill="#DD1C1C"/>
<circle cx="509.31" cy="401.75" r="2.0" fill="#DD1C1C"/>
<circle cx="514.55" cy="394.78" r="2.0" fill="#DD1C1C"/>
<circle cx="519.78" cy="389.39" r="2.0" fill="#DD1C1C"/>
<circle cx="525.02" cy="385.49" r="2.0" fill="#DD1C1C"/>
<circle cx="530.26" cy="382.74" r="2.0" fill="#DD1C1C"/>
<circle cx="535.5" cy="380.68" r="2.0" fill="#DD1C1C"/>
<polyline points="305,487.3 310.24,487.3 315.48,487.3 320.72,487.3 325.95,487.3 331.19,487.3 336.43,487.3 341.67,487.3 346.91,487.3 352.15,487.3 357.39,487.3 362.62,487.3 367.86,487.3 373.1,487.3 378.34,487.3 383.58,487.3 388.82,487.3 394.06,487.3 399.3,487.3 404.53,487.3 409.77,487.3 415.01,487.3 420.25,487.3 425.49,487.3 430.73,487.3 435.97,487.3 441.2,487.3 446.44,487.3 451.68,487.3 456.92,487.3 462.16,487.3 467.4,487.3 472.64,487.3 477.88,480.8 483.11,477.79 488.35,473.83 493.59,468.45 498.83,461.63 504.07,452.76 509.31,442.62 514.55,431.69 519.78,420.92 525.02,410.62 530.26,401.75 535.5,394.78" fill="none" stroke="#C434C8" stroke-width="1.5" stroke-linejoin="round"/>
<circle cx="305" cy="487.3" r="2.0" fill="#C434C8"/>
<circle cx="310.24" cy="487.3" r="2.0" fill="#C434C8"/>
<circle cx="315.48" cy="487.3" r="2.0" fill="#C434C8"/>
<circle cx="320.72" cy="487.3" r="2.0" fill="#C434C8"/>
<circle cx="325.95" cy="487.3" r="2.0" fill="#C434C8"/>
<circle cx="331.19" cy="487.3" r="2.0" fill="#C434C8"/>
<circle cx="336.43" cy="487.3" r="2.0" fill="#C434C8"/>
<circle cx="341.67" cy="487.3" r="2.0" fill="#C434C8"/>
<circle cx="346.91" cy="487.3" r="2.0" fill="#C434C8"/>
<circle cx="352.15" cy="487.3" r="2.0" fill="#C434C8"/>
<circle cx="357.39" cy="487.3" r="2.0" fill="#C434C8"/>
<circle cx="362.62" cy="487.3" r="2.0" fill="#C434C8"/>
<circle cx="367.86" cy="487.3" r="2.0" fill="#C434C8"/>
<circle cx="373.1" cy="487.3" r="2.0" fill="#C434C8"/>
<circle cx="378.34" cy="487.3" r="2.0" fill="#C434C8"/>
<circle cx="383.58" cy="487.3" r="2.0" fill="#C434C8"/>
<circle cx="388.82" cy="487.3" r="2.0" fill="#C434C8"/>
<circle cx="394.06" cy="487.3" r="2.0" fill="#C434C8"/>
<circle cx="399.3" cy="487.3" r="2.0" fill="#C434C8"/>
<circle cx="404.53" cy="487.3" r="2.0" fill="#C434C8"/>
<circle cx="409.77" cy="487.3" r="2.0" fill="#C434C8"/>
<circle cx="415.01" cy="487.3" r="2.0" fill="#C434C8"/>
<circle cx="420.25" cy="487.3" r="2.0" fill="#C434C8"/>
<circle cx="425.49" cy="487.3" r="2.0" fill="#C434C8"/>
<circle cx="430.73" cy="487.3" r="2.0" fill="#C434C8"/>
<circle cx="435.97" cy="487.3" r="2.0" fill="#C434C8"/>
<circle cx="441.2" cy="487.3" r="2.0" fill="#C434C8"/>
<circle cx="446.44" cy="487.3" r="2.0" fill="#C434C8"/>
<circle cx="451.68" cy="487.3" r="2.0" fill="#C434C8"/>
<circle cx="456.92" cy="487.3" r="2.0" fill="#C434C8"/>
<circle cx="462.16" cy="487.3" r="2.0" fill="#C434C8"/>
<circle cx="467.4" cy="487.3" r="2.0" fill="#C434C8"/>
<circle cx="472.64" cy="487.3" r="2.0" fill="#C434C8"/>
<circle cx="477.88" cy="480.8" r="2.0" fill="#C434C8"/>
<circle cx="483.11" cy="477.79" r="2.0" fill="#C434C8"/>
<circle cx="488.35" cy="473.83" r="2.0" fill="#C434C8"/>
<circle cx="493.59" cy="468.45" r="2.0" fill="#C434C8"/>
<circle cx="498.83" cy="461.63" r="2.0" fill="#C434C8"/>
<circle cx="504.07" cy="452.76" r="2.0" fill="#C434C8"/>
<circle cx="509.31" cy="442.62" r="2.0" fill="#C434C8"/>
<circle cx="514.55" cy="431.69" r="2.0" fill="#C434C8"/>
<circle cx="519.78" cy="420.92" r="2.0" fill="#C434C8"/>
<circle cx="525.02" cy="410.62" r="2.0" fill="#C434C8"/>
<circle cx="530.26" cy="401.75" r="2.0" fill="#C434C8"/>
<circle cx="535.5" cy="394.78" r="2.0" fill="#C434C8"/>
<line x1="318.8" y1="509.5" x2="334" y2="509.5" stroke="#70AD47" stroke-width="1.5"/>
<circle cx="326.4" cy="509.5" r="1.6" fill="#70AD47"/>
<text x="335.2" y="511.21" font-size="6.2" textLength="36.8" lengthAdjust="spacingAndGlyphs" class="lg">SARS-CoV-2</text>
<line x1="382" y1="509.5" x2="397.5" y2="509.5" stroke="#DD1C1C" stroke-width="1.5"/>
<circle cx="389.75" cy="509.5" r="1.6" fill="#DD1C1C"/>
<text x="398.8" y="511.21" font-size="6.2" textLength="33.5" lengthAdjust="spacingAndGlyphs" class="lg">Influenza A</text>
<line x1="443" y1="509.5" x2="459" y2="509.5" stroke="#C434C8" stroke-width="1.5"/>
<circle cx="451" cy="509.5" r="1.6" fill="#C434C8"/>
<text x="460" y="511.21" font-size="6.2" textLength="46.1" lengthAdjust="spacingAndGlyphs" class="lg">Internal control</text>
<text x="290.3" y="369" textLength="234" lengthAdjust="spacingAndGlyphs" class="tt">F. SARS-CoV-2 and influenza A positivity</text>
</svg>
</body></html>
